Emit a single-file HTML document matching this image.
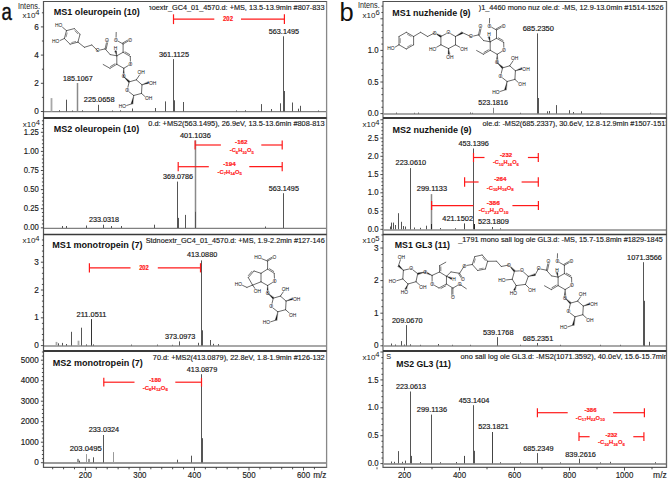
<!DOCTYPE html>
<html><head><meta charset="utf-8"><style>
html,body{margin:0;padding:0;background:#fff;}
svg{display:block;}
text{font-family:"Liberation Sans", sans-serif;}
</style></head><body>
<svg width="669" height="479" viewBox="0 0 669 479" style="font-family:'Liberation Sans', sans-serif">
<rect x="0" y="0" width="669" height="479" fill="#fff"/>
<defs>
<clipPath id="cL"><rect x="44" y="0" width="281.8" height="479"/></clipPath>
<clipPath id="cR"><rect x="384" y="0" width="281.7" height="479"/></clipPath>
</defs>
<text x="0" y="0" font-size="23.6" fill="#111" stroke="#111" stroke-width="0.45" transform="translate(1.5,19.8) scale(0.79,1)">a</text>
<text x="339.60" y="20.60" font-size="25.5" text-anchor="start" fill="#111" >b</text>
<line x1="44.00" y1="111.70" x2="326.10" y2="111.70" stroke="#808080" stroke-width="1.3" />
<line x1="44.00" y1="228.40" x2="326.10" y2="228.40" stroke="#808080" stroke-width="1.3" />
<line x1="44.00" y1="346.00" x2="326.10" y2="346.00" stroke="#a8a8a8" stroke-width="2.0" />
<line x1="44.00" y1="462.90" x2="326.10" y2="462.90" stroke="#9a9a9a" stroke-width="2.0" />
<line x1="383.50" y1="113.90" x2="666.00" y2="113.90" stroke="#a8a8a8" stroke-width="2.0" />
<line x1="383.50" y1="229.90" x2="666.00" y2="229.90" stroke="#a8a8a8" stroke-width="2.0" />
<line x1="383.50" y1="345.90" x2="666.00" y2="345.90" stroke="#a8a8a8" stroke-width="2.0" />
<line x1="383.50" y1="463.90" x2="666.00" y2="463.90" stroke="#9a9a9a" stroke-width="2.0" />
<line x1="51.50" y1="111.50" x2="51.50" y2="98.10" stroke="#a8a8a8" stroke-width="1.8" />
<line x1="66.50" y1="111.50" x2="66.50" y2="99.70" stroke="#555" stroke-width="1.0" />
<line x1="77.50" y1="111.50" x2="77.50" y2="83.00" stroke="#8a8a8a" stroke-width="1.5" />
<line x1="98.50" y1="111.50" x2="98.50" y2="104.80" stroke="#555" stroke-width="1.0" />
<line x1="132.50" y1="111.50" x2="132.50" y2="108.50" stroke="#555" stroke-width="1.0" />
<line x1="155.50" y1="111.50" x2="155.50" y2="108.00" stroke="#555" stroke-width="1.0" />
<line x1="165.50" y1="111.50" x2="165.50" y2="101.40" stroke="#555" stroke-width="1.0" />
<line x1="173.50" y1="111.50" x2="173.50" y2="59.10" stroke="#555" stroke-width="1.0" />
<line x1="174.50" y1="111.50" x2="174.50" y2="100.30" stroke="#555" stroke-width="1.0" />
<line x1="183.50" y1="111.50" x2="183.50" y2="102.00" stroke="#555" stroke-width="1.0" />
<line x1="261.50" y1="111.50" x2="261.50" y2="104.10" stroke="#555" stroke-width="1.0" />
<line x1="271.50" y1="111.50" x2="271.50" y2="109.00" stroke="#555" stroke-width="1.0" />
<line x1="280.50" y1="111.50" x2="280.50" y2="103.30" stroke="#555" stroke-width="1.0" />
<line x1="283.50" y1="111.50" x2="283.50" y2="36.30" stroke="#555" stroke-width="1.0" />
<line x1="284.50" y1="111.50" x2="284.50" y2="91.00" stroke="#555" stroke-width="1.0" />
<line x1="292.50" y1="111.50" x2="292.50" y2="102.50" stroke="#555" stroke-width="1.0" />
<line x1="298.50" y1="111.50" x2="298.50" y2="108.70" stroke="#555" stroke-width="1.0" />
<line x1="300.50" y1="111.50" x2="300.50" y2="105.80" stroke="#555" stroke-width="1.0" />
<line x1="59.50" y1="111.50" x2="59.50" y2="110.20" stroke="#555" stroke-width="1.0" />
<line x1="72.50" y1="111.50" x2="72.50" y2="110.50" stroke="#555" stroke-width="1.0" />
<line x1="82.50" y1="111.50" x2="82.50" y2="110.30" stroke="#555" stroke-width="1.0" />
<line x1="112.50" y1="111.50" x2="112.50" y2="110.50" stroke="#555" stroke-width="1.0" />
<line x1="120.50" y1="111.50" x2="120.50" y2="110.30" stroke="#555" stroke-width="1.0" />
<line x1="236.50" y1="111.50" x2="236.50" y2="110.50" stroke="#555" stroke-width="1.0" />
<line x1="245.50" y1="111.50" x2="245.50" y2="110.30" stroke="#555" stroke-width="1.0" />
<line x1="318.50" y1="111.50" x2="318.50" y2="110.50" stroke="#555" stroke-width="1.0" />
<line x1="62.50" y1="228.00" x2="62.50" y2="226.00" stroke="#555" stroke-width="1.0" />
<line x1="66.50" y1="228.00" x2="66.50" y2="226.00" stroke="#555" stroke-width="1.0" />
<line x1="86.50" y1="228.00" x2="86.50" y2="225.50" stroke="#555" stroke-width="1.0" />
<line x1="103.50" y1="228.00" x2="103.50" y2="224.70" stroke="#555" stroke-width="1.0" />
<line x1="111.50" y1="228.00" x2="111.50" y2="226.00" stroke="#555" stroke-width="1.0" />
<line x1="121.50" y1="228.00" x2="121.50" y2="226.00" stroke="#555" stroke-width="1.0" />
<line x1="154.50" y1="228.00" x2="154.50" y2="224.70" stroke="#555" stroke-width="1.0" />
<line x1="177.50" y1="228.00" x2="177.50" y2="181.60" stroke="#555" stroke-width="1.0" />
<line x1="178.50" y1="228.00" x2="178.50" y2="217.90" stroke="#555" stroke-width="1.0" />
<line x1="185.50" y1="228.00" x2="185.50" y2="214.90" stroke="#555" stroke-width="1.0" />
<line x1="195.50" y1="228.00" x2="195.50" y2="140.30" stroke="#8a8a8a" stroke-width="1.5" />
<line x1="195.50" y1="228.00" x2="195.50" y2="211.80" stroke="#555" stroke-width="1.0" />
<line x1="265.50" y1="228.00" x2="265.50" y2="226.50" stroke="#555" stroke-width="1.0" />
<line x1="283.50" y1="228.00" x2="283.50" y2="193.20" stroke="#555" stroke-width="1.0" />
<line x1="283.50" y1="228.00" x2="283.50" y2="216.50" stroke="#555" stroke-width="1.0" />
<line x1="56.50" y1="345.60" x2="56.50" y2="341.90" stroke="#a8a8a8" stroke-width="1.8" />
<line x1="58.50" y1="345.60" x2="58.50" y2="343.30" stroke="#555" stroke-width="1.0" />
<line x1="62.50" y1="345.60" x2="62.50" y2="342.90" stroke="#555" stroke-width="1.0" />
<line x1="66.50" y1="345.60" x2="66.50" y2="344.00" stroke="#555" stroke-width="1.0" />
<line x1="71.50" y1="345.60" x2="71.50" y2="331.80" stroke="#555" stroke-width="1.0" />
<line x1="78.50" y1="345.60" x2="78.50" y2="340.70" stroke="#a8a8a8" stroke-width="1.8" />
<line x1="81.50" y1="345.60" x2="81.50" y2="327.70" stroke="#555" stroke-width="1.0" />
<line x1="86.50" y1="345.60" x2="86.50" y2="344.40" stroke="#555" stroke-width="1.0" />
<line x1="91.50" y1="345.60" x2="91.50" y2="319.10" stroke="#333" stroke-width="1.0" />
<line x1="93.50" y1="345.60" x2="93.50" y2="344.40" stroke="#555" stroke-width="1.0" />
<line x1="179.50" y1="345.60" x2="179.50" y2="341.40" stroke="#555" stroke-width="1.0" />
<line x1="198.50" y1="345.60" x2="198.50" y2="342.80" stroke="#555" stroke-width="1.0" />
<line x1="201.50" y1="345.60" x2="201.50" y2="260.40" stroke="#555" stroke-width="1.0" />
<line x1="202.50" y1="345.60" x2="202.50" y2="330.30" stroke="#555" stroke-width="1.0" />
<line x1="210.50" y1="345.60" x2="210.50" y2="340.00" stroke="#555" stroke-width="1.0" />
<line x1="213.50" y1="345.60" x2="213.50" y2="343.80" stroke="#555" stroke-width="1.0" />
<line x1="218.50" y1="345.60" x2="218.50" y2="344.10" stroke="#555" stroke-width="1.0" />
<line x1="131.50" y1="345.60" x2="131.50" y2="344.60" stroke="#555" stroke-width="1.0" />
<line x1="157.50" y1="345.60" x2="157.50" y2="344.60" stroke="#555" stroke-width="1.0" />
<line x1="172.50" y1="345.60" x2="172.50" y2="344.80" stroke="#555" stroke-width="1.0" />
<line x1="77.50" y1="462.60" x2="77.50" y2="458.90" stroke="#9a9a9a" stroke-width="1.0" />
<line x1="78.50" y1="462.60" x2="78.50" y2="458.90" stroke="#9a9a9a" stroke-width="1.0" />
<line x1="79.50" y1="462.60" x2="79.50" y2="460.70" stroke="#555" stroke-width="1.0" />
<line x1="86.50" y1="462.60" x2="86.50" y2="454.10" stroke="#9a9a9a" stroke-width="1.0" />
<line x1="88.50" y1="462.60" x2="88.50" y2="458.90" stroke="#9a9a9a" stroke-width="1.0" />
<line x1="89.50" y1="462.60" x2="89.50" y2="458.90" stroke="#9a9a9a" stroke-width="1.0" />
<line x1="93.50" y1="462.60" x2="93.50" y2="457.30" stroke="#555" stroke-width="1.0" />
<line x1="103.50" y1="462.60" x2="103.50" y2="435.00" stroke="#555" stroke-width="1.0" />
<line x1="113.50" y1="462.60" x2="113.50" y2="452.10" stroke="#9a9a9a" stroke-width="1.0" />
<line x1="177.50" y1="462.60" x2="177.50" y2="459.70" stroke="#555" stroke-width="1.0" />
<line x1="191.50" y1="462.60" x2="191.50" y2="455.70" stroke="#555" stroke-width="1.0" />
<line x1="201.50" y1="462.60" x2="201.50" y2="374.20" stroke="#555" stroke-width="1.0" />
<line x1="202.50" y1="462.60" x2="202.50" y2="438.20" stroke="#555" stroke-width="1.0" />
<line x1="493.50" y1="113.60" x2="493.50" y2="107.80" stroke="#888" stroke-width="1.0" />
<line x1="537.50" y1="113.60" x2="537.50" y2="33.40" stroke="#555" stroke-width="1.0" />
<line x1="538.50" y1="113.60" x2="538.50" y2="98.00" stroke="#555" stroke-width="1.0" />
<line x1="547.50" y1="113.60" x2="547.50" y2="111.30" stroke="#555" stroke-width="1.0" />
<line x1="549.50" y1="113.60" x2="549.50" y2="111.00" stroke="#555" stroke-width="1.0" />
<line x1="556.50" y1="113.60" x2="556.50" y2="105.10" stroke="#555" stroke-width="1.0" />
<line x1="569.50" y1="113.60" x2="569.50" y2="110.20" stroke="#555" stroke-width="1.0" />
<line x1="573.50" y1="113.60" x2="573.50" y2="112.00" stroke="#555" stroke-width="1.0" />
<line x1="581.50" y1="113.60" x2="581.50" y2="111.30" stroke="#555" stroke-width="1.0" />
<line x1="396.50" y1="113.60" x2="396.50" y2="112.60" stroke="#555" stroke-width="1.0" />
<line x1="414.50" y1="113.60" x2="414.50" y2="112.80" stroke="#555" stroke-width="1.0" />
<line x1="418.50" y1="113.60" x2="418.50" y2="112.60" stroke="#555" stroke-width="1.0" />
<line x1="470.50" y1="113.60" x2="470.50" y2="112.50" stroke="#555" stroke-width="1.0" />
<line x1="472.50" y1="113.60" x2="472.50" y2="112.80" stroke="#555" stroke-width="1.0" />
<line x1="520.50" y1="113.60" x2="520.50" y2="112.80" stroke="#555" stroke-width="1.0" />
<line x1="600.50" y1="113.60" x2="600.50" y2="112.80" stroke="#555" stroke-width="1.0" />
<line x1="650.50" y1="113.60" x2="650.50" y2="112.80" stroke="#555" stroke-width="1.0" />
<line x1="390.50" y1="229.30" x2="390.50" y2="226.50" stroke="#555" stroke-width="1.0" />
<line x1="391.50" y1="229.30" x2="391.50" y2="222.60" stroke="#555" stroke-width="1.0" />
<line x1="393.50" y1="229.30" x2="393.50" y2="222.60" stroke="#555" stroke-width="1.0" />
<line x1="395.50" y1="229.30" x2="395.50" y2="225.00" stroke="#555" stroke-width="1.0" />
<line x1="398.50" y1="229.30" x2="398.50" y2="213.20" stroke="#555" stroke-width="1.0" />
<line x1="401.50" y1="229.30" x2="401.50" y2="221.80" stroke="#555" stroke-width="1.0" />
<line x1="403.50" y1="229.30" x2="403.50" y2="226.00" stroke="#555" stroke-width="1.0" />
<line x1="405.50" y1="229.30" x2="405.50" y2="226.50" stroke="#555" stroke-width="1.0" />
<line x1="410.50" y1="229.30" x2="410.50" y2="168.10" stroke="#555" stroke-width="1.0" />
<line x1="410.50" y1="229.30" x2="410.50" y2="221.00" stroke="#555" stroke-width="1.0" />
<line x1="414.50" y1="229.30" x2="414.50" y2="227.50" stroke="#555" stroke-width="1.0" />
<line x1="420.50" y1="229.30" x2="420.50" y2="227.80" stroke="#555" stroke-width="1.0" />
<line x1="426.50" y1="229.30" x2="426.50" y2="225.70" stroke="#555" stroke-width="1.0" />
<line x1="431.50" y1="229.30" x2="431.50" y2="194.10" stroke="#8a8a8a" stroke-width="1.5" />
<line x1="431.50" y1="229.30" x2="431.50" y2="224.00" stroke="#222" stroke-width="1.0" />
<line x1="464.50" y1="229.30" x2="464.50" y2="223.40" stroke="#444" stroke-width="1.0" />
<line x1="473.50" y1="229.30" x2="473.50" y2="148.50" stroke="#555" stroke-width="1.0" />
<line x1="474.50" y1="229.30" x2="474.50" y2="224.00" stroke="#222" stroke-width="1.0" />
<line x1="492.50" y1="229.30" x2="492.50" y2="227.00" stroke="#555" stroke-width="1.0" />
<line x1="440.50" y1="229.30" x2="440.50" y2="228.00" stroke="#555" stroke-width="1.0" />
<line x1="455.50" y1="229.30" x2="455.50" y2="228.20" stroke="#555" stroke-width="1.0" />
<line x1="500.50" y1="229.30" x2="500.50" y2="228.30" stroke="#555" stroke-width="1.0" />
<line x1="391.50" y1="345.70" x2="391.50" y2="343.50" stroke="#555" stroke-width="1.0" />
<line x1="401.50" y1="345.70" x2="401.50" y2="341.10" stroke="#555" stroke-width="1.0" />
<line x1="406.50" y1="345.70" x2="406.50" y2="325.10" stroke="#555" stroke-width="1.0" />
<line x1="438.50" y1="345.70" x2="438.50" y2="344.00" stroke="#555" stroke-width="1.0" />
<line x1="497.50" y1="345.70" x2="497.50" y2="337.10" stroke="#555" stroke-width="1.0" />
<line x1="537.50" y1="345.70" x2="537.50" y2="343.00" stroke="#555" stroke-width="1.0" />
<line x1="643.50" y1="345.70" x2="643.50" y2="262.20" stroke="#555" stroke-width="1.0" />
<line x1="644.50" y1="345.70" x2="644.50" y2="300.80" stroke="#555" stroke-width="1.0" />
<line x1="644.50" y1="345.70" x2="644.50" y2="340.60" stroke="#555" stroke-width="1.0" />
<line x1="649.50" y1="345.70" x2="649.50" y2="341.80" stroke="#555" stroke-width="1.0" />
<line x1="395.50" y1="345.70" x2="395.50" y2="344.50" stroke="#555" stroke-width="1.0" />
<line x1="404.50" y1="345.70" x2="404.50" y2="344.50" stroke="#555" stroke-width="1.0" />
<line x1="410.50" y1="345.70" x2="410.50" y2="344.30" stroke="#555" stroke-width="1.0" />
<line x1="420.50" y1="345.70" x2="420.50" y2="344.80" stroke="#555" stroke-width="1.0" />
<line x1="452.50" y1="345.70" x2="452.50" y2="344.80" stroke="#555" stroke-width="1.0" />
<line x1="470.50" y1="345.70" x2="470.50" y2="344.80" stroke="#555" stroke-width="1.0" />
<line x1="520.50" y1="345.70" x2="520.50" y2="344.80" stroke="#555" stroke-width="1.0" />
<line x1="560.50" y1="345.70" x2="560.50" y2="344.80" stroke="#555" stroke-width="1.0" />
<line x1="600.50" y1="345.70" x2="600.50" y2="344.80" stroke="#555" stroke-width="1.0" />
<line x1="620.50" y1="345.70" x2="620.50" y2="344.80" stroke="#555" stroke-width="1.0" />
<line x1="398.50" y1="463.40" x2="398.50" y2="451.10" stroke="#555" stroke-width="1.0" />
<line x1="405.50" y1="463.40" x2="405.50" y2="460.60" stroke="#555" stroke-width="1.0" />
<line x1="410.50" y1="463.40" x2="410.50" y2="391.50" stroke="#555" stroke-width="1.0" />
<line x1="411.50" y1="463.40" x2="411.50" y2="455.90" stroke="#555" stroke-width="1.0" />
<line x1="431.50" y1="463.40" x2="431.50" y2="414.60" stroke="#555" stroke-width="1.0" />
<line x1="431.50" y1="463.40" x2="431.50" y2="457.50" stroke="#555" stroke-width="1.0" />
<line x1="464.50" y1="463.40" x2="464.50" y2="455.90" stroke="#444" stroke-width="1.0" />
<line x1="473.50" y1="463.40" x2="473.50" y2="405.20" stroke="#555" stroke-width="1.0" />
<line x1="474.50" y1="463.40" x2="474.50" y2="450.80" stroke="#555" stroke-width="1.0" />
<line x1="492.50" y1="463.40" x2="492.50" y2="432.00" stroke="#444" stroke-width="1.0" />
<line x1="537.50" y1="463.40" x2="537.50" y2="453.10" stroke="#555" stroke-width="1.0" />
<line x1="579.50" y1="463.40" x2="579.50" y2="458.70" stroke="#555" stroke-width="1.0" />
<line x1="391.50" y1="463.40" x2="391.50" y2="461.50" stroke="#555" stroke-width="1.0" />
<line x1="394.50" y1="463.40" x2="394.50" y2="461.80" stroke="#555" stroke-width="1.0" />
<line x1="402.50" y1="463.40" x2="402.50" y2="461.80" stroke="#555" stroke-width="1.0" />
<line x1="420.50" y1="463.40" x2="420.50" y2="462.00" stroke="#555" stroke-width="1.0" />
<line x1="440.50" y1="463.40" x2="440.50" y2="462.20" stroke="#555" stroke-width="1.0" />
<line x1="456.50" y1="463.40" x2="456.50" y2="462.00" stroke="#555" stroke-width="1.0" />
<line x1="500.50" y1="463.40" x2="500.50" y2="462.20" stroke="#555" stroke-width="1.0" />
<line x1="520.50" y1="463.40" x2="520.50" y2="462.40" stroke="#555" stroke-width="1.0" />
<line x1="560.50" y1="463.40" x2="560.50" y2="462.40" stroke="#555" stroke-width="1.0" />
<line x1="600.50" y1="463.40" x2="600.50" y2="462.40" stroke="#555" stroke-width="1.0" />
<line x1="610.50" y1="463.40" x2="610.50" y2="461.80" stroke="#555" stroke-width="1.0" />
<line x1="655.50" y1="463.40" x2="655.50" y2="462.20" stroke="#555" stroke-width="1.0" />
<line x1="43.50" y1="1.00" x2="43.50" y2="468.00" stroke="#555" stroke-width="1.2" />
<line x1="326.60" y1="1.00" x2="326.60" y2="468.00" stroke="#888" stroke-width="1.3" />
<line x1="43.50" y1="1.50" x2="326.60" y2="1.50" stroke="#505050" stroke-width="1.1" />
<line x1="43.50" y1="118.00" x2="326.60" y2="118.00" stroke="#3a3a3a" stroke-width="1.8" />
<line x1="43.50" y1="234.50" x2="326.60" y2="234.50" stroke="#3a3a3a" stroke-width="1.4" />
<line x1="43.50" y1="351.00" x2="326.60" y2="351.00" stroke="#3a3a3a" stroke-width="1.8" />
<line x1="43.50" y1="467.40" x2="326.60" y2="467.40" stroke="#5a5a5a" stroke-width="1.1" />
<line x1="383.00" y1="1.00" x2="383.00" y2="468.00" stroke="#888" stroke-width="1.6" />
<line x1="666.50" y1="1.00" x2="666.50" y2="468.00" stroke="#666" stroke-width="1.3" />
<line x1="383.00" y1="1.50" x2="666.50" y2="1.50" stroke="#505050" stroke-width="1.1" />
<line x1="383.00" y1="118.00" x2="666.50" y2="118.00" stroke="#3a3a3a" stroke-width="1.8" />
<line x1="383.00" y1="234.50" x2="666.50" y2="234.50" stroke="#3a3a3a" stroke-width="1.4" />
<line x1="383.00" y1="351.00" x2="666.50" y2="351.00" stroke="#3a3a3a" stroke-width="1.8" />
<line x1="383.00" y1="467.40" x2="666.50" y2="467.40" stroke="#5a5a5a" stroke-width="1.1" />
<line x1="40.90" y1="111.50" x2="43.50" y2="111.50" stroke="#3a3a3a" stroke-width="0.9" />
<line x1="41.90" y1="97.40" x2="43.50" y2="97.40" stroke="#3a3a3a" stroke-width="0.9" />
<line x1="40.90" y1="83.30" x2="43.50" y2="83.30" stroke="#3a3a3a" stroke-width="0.9" />
<line x1="41.90" y1="69.20" x2="43.50" y2="69.20" stroke="#3a3a3a" stroke-width="0.9" />
<line x1="40.90" y1="55.10" x2="43.50" y2="55.10" stroke="#3a3a3a" stroke-width="0.9" />
<line x1="41.90" y1="41.00" x2="43.50" y2="41.00" stroke="#3a3a3a" stroke-width="0.9" />
<line x1="40.90" y1="26.90" x2="43.50" y2="26.90" stroke="#3a3a3a" stroke-width="0.9" />
<line x1="41.90" y1="12.80" x2="43.50" y2="12.80" stroke="#3a3a3a" stroke-width="0.9" />
<text x="38.80" y="114.10" font-size="8.2" text-anchor="end" fill="#1a1a1a" stroke="#1a1a1a" stroke-width="0.15">0</text>
<text x="38.80" y="85.90" font-size="8.2" text-anchor="end" fill="#1a1a1a" stroke="#1a1a1a" stroke-width="0.15">2</text>
<text x="38.80" y="57.70" font-size="8.2" text-anchor="end" fill="#1a1a1a" stroke="#1a1a1a" stroke-width="0.15">4</text>
<text x="38.80" y="29.50" font-size="8.2" text-anchor="end" fill="#1a1a1a" stroke="#1a1a1a" stroke-width="0.15">6</text>
<line x1="40.90" y1="227.80" x2="43.50" y2="227.80" stroke="#3a3a3a" stroke-width="0.9" />
<line x1="41.90" y1="223.98" x2="43.50" y2="223.98" stroke="#3a3a3a" stroke-width="0.9" />
<line x1="41.90" y1="220.16" x2="43.50" y2="220.16" stroke="#3a3a3a" stroke-width="0.9" />
<line x1="41.90" y1="216.34" x2="43.50" y2="216.34" stroke="#3a3a3a" stroke-width="0.9" />
<line x1="41.90" y1="212.52" x2="43.50" y2="212.52" stroke="#3a3a3a" stroke-width="0.9" />
<line x1="40.90" y1="208.70" x2="43.50" y2="208.70" stroke="#3a3a3a" stroke-width="0.9" />
<line x1="41.90" y1="204.88" x2="43.50" y2="204.88" stroke="#3a3a3a" stroke-width="0.9" />
<line x1="41.90" y1="201.06" x2="43.50" y2="201.06" stroke="#3a3a3a" stroke-width="0.9" />
<line x1="41.90" y1="197.24" x2="43.50" y2="197.24" stroke="#3a3a3a" stroke-width="0.9" />
<line x1="41.90" y1="193.42" x2="43.50" y2="193.42" stroke="#3a3a3a" stroke-width="0.9" />
<line x1="40.90" y1="189.60" x2="43.50" y2="189.60" stroke="#3a3a3a" stroke-width="0.9" />
<line x1="41.90" y1="185.78" x2="43.50" y2="185.78" stroke="#3a3a3a" stroke-width="0.9" />
<line x1="41.90" y1="181.96" x2="43.50" y2="181.96" stroke="#3a3a3a" stroke-width="0.9" />
<line x1="41.90" y1="178.14" x2="43.50" y2="178.14" stroke="#3a3a3a" stroke-width="0.9" />
<line x1="41.90" y1="174.32" x2="43.50" y2="174.32" stroke="#3a3a3a" stroke-width="0.9" />
<line x1="40.90" y1="170.50" x2="43.50" y2="170.50" stroke="#3a3a3a" stroke-width="0.9" />
<line x1="41.90" y1="166.68" x2="43.50" y2="166.68" stroke="#3a3a3a" stroke-width="0.9" />
<line x1="41.90" y1="162.86" x2="43.50" y2="162.86" stroke="#3a3a3a" stroke-width="0.9" />
<line x1="41.90" y1="159.04" x2="43.50" y2="159.04" stroke="#3a3a3a" stroke-width="0.9" />
<line x1="41.90" y1="155.22" x2="43.50" y2="155.22" stroke="#3a3a3a" stroke-width="0.9" />
<line x1="40.90" y1="151.40" x2="43.50" y2="151.40" stroke="#3a3a3a" stroke-width="0.9" />
<line x1="41.90" y1="147.58" x2="43.50" y2="147.58" stroke="#3a3a3a" stroke-width="0.9" />
<line x1="41.90" y1="143.76" x2="43.50" y2="143.76" stroke="#3a3a3a" stroke-width="0.9" />
<line x1="41.90" y1="139.94" x2="43.50" y2="139.94" stroke="#3a3a3a" stroke-width="0.9" />
<line x1="41.90" y1="136.12" x2="43.50" y2="136.12" stroke="#3a3a3a" stroke-width="0.9" />
<line x1="40.90" y1="132.30" x2="43.50" y2="132.30" stroke="#3a3a3a" stroke-width="0.9" />
<line x1="41.90" y1="128.48" x2="43.50" y2="128.48" stroke="#3a3a3a" stroke-width="0.9" />
<line x1="41.90" y1="124.66" x2="43.50" y2="124.66" stroke="#3a3a3a" stroke-width="0.9" />
<line x1="41.90" y1="120.84" x2="43.50" y2="120.84" stroke="#3a3a3a" stroke-width="0.9" />
<text x="38.80" y="230.40" font-size="8.2" text-anchor="end" fill="#1a1a1a" textLength="15.00" lengthAdjust="spacingAndGlyphs" stroke="#1a1a1a" stroke-width="0.15">0.00</text>
<text x="38.80" y="211.30" font-size="8.2" text-anchor="end" fill="#1a1a1a" textLength="15.00" lengthAdjust="spacingAndGlyphs" stroke="#1a1a1a" stroke-width="0.15">0.25</text>
<text x="38.80" y="192.20" font-size="8.2" text-anchor="end" fill="#1a1a1a" textLength="15.00" lengthAdjust="spacingAndGlyphs" stroke="#1a1a1a" stroke-width="0.15">0.50</text>
<text x="38.80" y="173.10" font-size="8.2" text-anchor="end" fill="#1a1a1a" textLength="15.00" lengthAdjust="spacingAndGlyphs" stroke="#1a1a1a" stroke-width="0.15">0.75</text>
<text x="38.80" y="154.00" font-size="8.2" text-anchor="end" fill="#1a1a1a" textLength="15.00" lengthAdjust="spacingAndGlyphs" stroke="#1a1a1a" stroke-width="0.15">1.00</text>
<text x="38.80" y="134.90" font-size="8.2" text-anchor="end" fill="#1a1a1a" textLength="15.00" lengthAdjust="spacingAndGlyphs" stroke="#1a1a1a" stroke-width="0.15">1.25</text>
<line x1="40.90" y1="345.60" x2="43.50" y2="345.60" stroke="#3a3a3a" stroke-width="0.9" />
<line x1="41.90" y1="340.04" x2="43.50" y2="340.04" stroke="#3a3a3a" stroke-width="0.9" />
<line x1="41.90" y1="334.48" x2="43.50" y2="334.48" stroke="#3a3a3a" stroke-width="0.9" />
<line x1="41.90" y1="328.92" x2="43.50" y2="328.92" stroke="#3a3a3a" stroke-width="0.9" />
<line x1="41.90" y1="323.36" x2="43.50" y2="323.36" stroke="#3a3a3a" stroke-width="0.9" />
<line x1="40.90" y1="317.80" x2="43.50" y2="317.80" stroke="#3a3a3a" stroke-width="0.9" />
<line x1="41.90" y1="312.24" x2="43.50" y2="312.24" stroke="#3a3a3a" stroke-width="0.9" />
<line x1="41.90" y1="306.68" x2="43.50" y2="306.68" stroke="#3a3a3a" stroke-width="0.9" />
<line x1="41.90" y1="301.12" x2="43.50" y2="301.12" stroke="#3a3a3a" stroke-width="0.9" />
<line x1="41.90" y1="295.56" x2="43.50" y2="295.56" stroke="#3a3a3a" stroke-width="0.9" />
<line x1="40.90" y1="290.00" x2="43.50" y2="290.00" stroke="#3a3a3a" stroke-width="0.9" />
<line x1="41.90" y1="284.44" x2="43.50" y2="284.44" stroke="#3a3a3a" stroke-width="0.9" />
<line x1="41.90" y1="278.88" x2="43.50" y2="278.88" stroke="#3a3a3a" stroke-width="0.9" />
<line x1="41.90" y1="273.32" x2="43.50" y2="273.32" stroke="#3a3a3a" stroke-width="0.9" />
<line x1="41.90" y1="267.76" x2="43.50" y2="267.76" stroke="#3a3a3a" stroke-width="0.9" />
<line x1="40.90" y1="262.20" x2="43.50" y2="262.20" stroke="#3a3a3a" stroke-width="0.9" />
<line x1="41.90" y1="256.64" x2="43.50" y2="256.64" stroke="#3a3a3a" stroke-width="0.9" />
<line x1="41.90" y1="251.08" x2="43.50" y2="251.08" stroke="#3a3a3a" stroke-width="0.9" />
<line x1="41.90" y1="245.52" x2="43.50" y2="245.52" stroke="#3a3a3a" stroke-width="0.9" />
<line x1="41.90" y1="239.96" x2="43.50" y2="239.96" stroke="#3a3a3a" stroke-width="0.9" />
<text x="38.80" y="348.20" font-size="8.2" text-anchor="end" fill="#1a1a1a" stroke="#1a1a1a" stroke-width="0.15">0</text>
<text x="38.80" y="320.40" font-size="8.2" text-anchor="end" fill="#1a1a1a" stroke="#1a1a1a" stroke-width="0.15">1</text>
<text x="38.80" y="292.60" font-size="8.2" text-anchor="end" fill="#1a1a1a" stroke="#1a1a1a" stroke-width="0.15">2</text>
<text x="38.80" y="264.80" font-size="8.2" text-anchor="end" fill="#1a1a1a" stroke="#1a1a1a" stroke-width="0.15">3</text>
<line x1="40.90" y1="462.70" x2="43.50" y2="462.70" stroke="#3a3a3a" stroke-width="0.9" />
<line x1="41.90" y1="458.60" x2="43.50" y2="458.60" stroke="#3a3a3a" stroke-width="0.9" />
<line x1="41.90" y1="454.50" x2="43.50" y2="454.50" stroke="#3a3a3a" stroke-width="0.9" />
<line x1="41.90" y1="450.40" x2="43.50" y2="450.40" stroke="#3a3a3a" stroke-width="0.9" />
<line x1="41.90" y1="446.30" x2="43.50" y2="446.30" stroke="#3a3a3a" stroke-width="0.9" />
<line x1="40.90" y1="442.20" x2="43.50" y2="442.20" stroke="#3a3a3a" stroke-width="0.9" />
<line x1="41.90" y1="438.10" x2="43.50" y2="438.10" stroke="#3a3a3a" stroke-width="0.9" />
<line x1="41.90" y1="434.00" x2="43.50" y2="434.00" stroke="#3a3a3a" stroke-width="0.9" />
<line x1="41.90" y1="429.90" x2="43.50" y2="429.90" stroke="#3a3a3a" stroke-width="0.9" />
<line x1="41.90" y1="425.80" x2="43.50" y2="425.80" stroke="#3a3a3a" stroke-width="0.9" />
<line x1="40.90" y1="421.70" x2="43.50" y2="421.70" stroke="#3a3a3a" stroke-width="0.9" />
<line x1="41.90" y1="417.60" x2="43.50" y2="417.60" stroke="#3a3a3a" stroke-width="0.9" />
<line x1="41.90" y1="413.50" x2="43.50" y2="413.50" stroke="#3a3a3a" stroke-width="0.9" />
<line x1="41.90" y1="409.40" x2="43.50" y2="409.40" stroke="#3a3a3a" stroke-width="0.9" />
<line x1="41.90" y1="405.30" x2="43.50" y2="405.30" stroke="#3a3a3a" stroke-width="0.9" />
<line x1="40.90" y1="401.20" x2="43.50" y2="401.20" stroke="#3a3a3a" stroke-width="0.9" />
<line x1="41.90" y1="397.10" x2="43.50" y2="397.10" stroke="#3a3a3a" stroke-width="0.9" />
<line x1="41.90" y1="393.00" x2="43.50" y2="393.00" stroke="#3a3a3a" stroke-width="0.9" />
<line x1="41.90" y1="388.90" x2="43.50" y2="388.90" stroke="#3a3a3a" stroke-width="0.9" />
<line x1="41.90" y1="384.80" x2="43.50" y2="384.80" stroke="#3a3a3a" stroke-width="0.9" />
<line x1="40.90" y1="380.70" x2="43.50" y2="380.70" stroke="#3a3a3a" stroke-width="0.9" />
<line x1="41.90" y1="376.60" x2="43.50" y2="376.60" stroke="#3a3a3a" stroke-width="0.9" />
<line x1="41.90" y1="372.50" x2="43.50" y2="372.50" stroke="#3a3a3a" stroke-width="0.9" />
<line x1="41.90" y1="368.40" x2="43.50" y2="368.40" stroke="#3a3a3a" stroke-width="0.9" />
<line x1="41.90" y1="364.30" x2="43.50" y2="364.30" stroke="#3a3a3a" stroke-width="0.9" />
<line x1="40.90" y1="360.20" x2="43.50" y2="360.20" stroke="#3a3a3a" stroke-width="0.9" />
<line x1="41.90" y1="356.10" x2="43.50" y2="356.10" stroke="#3a3a3a" stroke-width="0.9" />
<line x1="41.90" y1="352.00" x2="43.50" y2="352.00" stroke="#3a3a3a" stroke-width="0.9" />
<text x="38.80" y="465.30" font-size="8.2" text-anchor="end" fill="#1a1a1a" stroke="#1a1a1a" stroke-width="0.15">0</text>
<text x="38.80" y="444.80" font-size="8.2" text-anchor="end" fill="#1a1a1a" textLength="18.00" lengthAdjust="spacingAndGlyphs" stroke="#1a1a1a" stroke-width="0.15">1000</text>
<text x="38.80" y="424.30" font-size="8.2" text-anchor="end" fill="#1a1a1a" textLength="18.00" lengthAdjust="spacingAndGlyphs" stroke="#1a1a1a" stroke-width="0.15">2000</text>
<text x="38.80" y="403.80" font-size="8.2" text-anchor="end" fill="#1a1a1a" textLength="18.00" lengthAdjust="spacingAndGlyphs" stroke="#1a1a1a" stroke-width="0.15">3000</text>
<text x="38.80" y="383.30" font-size="8.2" text-anchor="end" fill="#1a1a1a" textLength="18.00" lengthAdjust="spacingAndGlyphs" stroke="#1a1a1a" stroke-width="0.15">4000</text>
<text x="38.80" y="362.80" font-size="8.2" text-anchor="end" fill="#1a1a1a" textLength="18.00" lengthAdjust="spacingAndGlyphs" stroke="#1a1a1a" stroke-width="0.15">5000</text>
<line x1="380.40" y1="113.60" x2="383.00" y2="113.60" stroke="#3a3a3a" stroke-width="0.9" />
<line x1="381.40" y1="107.28" x2="383.00" y2="107.28" stroke="#3a3a3a" stroke-width="0.9" />
<line x1="381.40" y1="100.96" x2="383.00" y2="100.96" stroke="#3a3a3a" stroke-width="0.9" />
<line x1="381.40" y1="94.64" x2="383.00" y2="94.64" stroke="#3a3a3a" stroke-width="0.9" />
<line x1="381.40" y1="88.32" x2="383.00" y2="88.32" stroke="#3a3a3a" stroke-width="0.9" />
<line x1="380.40" y1="82.00" x2="383.00" y2="82.00" stroke="#3a3a3a" stroke-width="0.9" />
<line x1="381.40" y1="75.68" x2="383.00" y2="75.68" stroke="#3a3a3a" stroke-width="0.9" />
<line x1="381.40" y1="69.36" x2="383.00" y2="69.36" stroke="#3a3a3a" stroke-width="0.9" />
<line x1="381.40" y1="63.04" x2="383.00" y2="63.04" stroke="#3a3a3a" stroke-width="0.9" />
<line x1="381.40" y1="56.72" x2="383.00" y2="56.72" stroke="#3a3a3a" stroke-width="0.9" />
<line x1="380.40" y1="50.40" x2="383.00" y2="50.40" stroke="#3a3a3a" stroke-width="0.9" />
<line x1="381.40" y1="44.08" x2="383.00" y2="44.08" stroke="#3a3a3a" stroke-width="0.9" />
<line x1="381.40" y1="37.76" x2="383.00" y2="37.76" stroke="#3a3a3a" stroke-width="0.9" />
<line x1="381.40" y1="31.44" x2="383.00" y2="31.44" stroke="#3a3a3a" stroke-width="0.9" />
<line x1="381.40" y1="25.12" x2="383.00" y2="25.12" stroke="#3a3a3a" stroke-width="0.9" />
<line x1="380.40" y1="18.80" x2="383.00" y2="18.80" stroke="#3a3a3a" stroke-width="0.9" />
<line x1="381.40" y1="12.48" x2="383.00" y2="12.48" stroke="#3a3a3a" stroke-width="0.9" />
<line x1="381.40" y1="6.16" x2="383.00" y2="6.16" stroke="#3a3a3a" stroke-width="0.9" />
<text x="378.60" y="116.20" font-size="8.2" text-anchor="end" fill="#1a1a1a" textLength="10.80" lengthAdjust="spacingAndGlyphs" stroke="#1a1a1a" stroke-width="0.15">0.0</text>
<text x="378.60" y="84.60" font-size="8.2" text-anchor="end" fill="#1a1a1a" textLength="10.80" lengthAdjust="spacingAndGlyphs" stroke="#1a1a1a" stroke-width="0.15">0.5</text>
<text x="378.60" y="53.00" font-size="8.2" text-anchor="end" fill="#1a1a1a" textLength="10.80" lengthAdjust="spacingAndGlyphs" stroke="#1a1a1a" stroke-width="0.15">1.0</text>
<line x1="380.40" y1="229.30" x2="383.00" y2="229.30" stroke="#3a3a3a" stroke-width="0.9" />
<line x1="381.40" y1="225.65" x2="383.00" y2="225.65" stroke="#3a3a3a" stroke-width="0.9" />
<line x1="381.40" y1="222.00" x2="383.00" y2="222.00" stroke="#3a3a3a" stroke-width="0.9" />
<line x1="381.40" y1="218.35" x2="383.00" y2="218.35" stroke="#3a3a3a" stroke-width="0.9" />
<line x1="381.40" y1="214.70" x2="383.00" y2="214.70" stroke="#3a3a3a" stroke-width="0.9" />
<line x1="380.40" y1="211.05" x2="383.00" y2="211.05" stroke="#3a3a3a" stroke-width="0.9" />
<line x1="381.40" y1="207.40" x2="383.00" y2="207.40" stroke="#3a3a3a" stroke-width="0.9" />
<line x1="381.40" y1="203.75" x2="383.00" y2="203.75" stroke="#3a3a3a" stroke-width="0.9" />
<line x1="381.40" y1="200.10" x2="383.00" y2="200.10" stroke="#3a3a3a" stroke-width="0.9" />
<line x1="381.40" y1="196.45" x2="383.00" y2="196.45" stroke="#3a3a3a" stroke-width="0.9" />
<line x1="380.40" y1="192.80" x2="383.00" y2="192.80" stroke="#3a3a3a" stroke-width="0.9" />
<line x1="381.40" y1="189.15" x2="383.00" y2="189.15" stroke="#3a3a3a" stroke-width="0.9" />
<line x1="381.40" y1="185.50" x2="383.00" y2="185.50" stroke="#3a3a3a" stroke-width="0.9" />
<line x1="381.40" y1="181.85" x2="383.00" y2="181.85" stroke="#3a3a3a" stroke-width="0.9" />
<line x1="381.40" y1="178.20" x2="383.00" y2="178.20" stroke="#3a3a3a" stroke-width="0.9" />
<line x1="380.40" y1="174.55" x2="383.00" y2="174.55" stroke="#3a3a3a" stroke-width="0.9" />
<line x1="381.40" y1="170.90" x2="383.00" y2="170.90" stroke="#3a3a3a" stroke-width="0.9" />
<line x1="381.40" y1="167.25" x2="383.00" y2="167.25" stroke="#3a3a3a" stroke-width="0.9" />
<line x1="381.40" y1="163.60" x2="383.00" y2="163.60" stroke="#3a3a3a" stroke-width="0.9" />
<line x1="381.40" y1="159.95" x2="383.00" y2="159.95" stroke="#3a3a3a" stroke-width="0.9" />
<line x1="380.40" y1="156.30" x2="383.00" y2="156.30" stroke="#3a3a3a" stroke-width="0.9" />
<line x1="381.40" y1="152.65" x2="383.00" y2="152.65" stroke="#3a3a3a" stroke-width="0.9" />
<line x1="381.40" y1="149.00" x2="383.00" y2="149.00" stroke="#3a3a3a" stroke-width="0.9" />
<line x1="381.40" y1="145.35" x2="383.00" y2="145.35" stroke="#3a3a3a" stroke-width="0.9" />
<line x1="381.40" y1="141.70" x2="383.00" y2="141.70" stroke="#3a3a3a" stroke-width="0.9" />
<line x1="380.40" y1="138.05" x2="383.00" y2="138.05" stroke="#3a3a3a" stroke-width="0.9" />
<line x1="381.40" y1="134.40" x2="383.00" y2="134.40" stroke="#3a3a3a" stroke-width="0.9" />
<line x1="381.40" y1="130.75" x2="383.00" y2="130.75" stroke="#3a3a3a" stroke-width="0.9" />
<line x1="381.40" y1="127.10" x2="383.00" y2="127.10" stroke="#3a3a3a" stroke-width="0.9" />
<line x1="381.40" y1="123.45" x2="383.00" y2="123.45" stroke="#3a3a3a" stroke-width="0.9" />
<line x1="380.40" y1="119.80" x2="383.00" y2="119.80" stroke="#3a3a3a" stroke-width="0.9" />
<text x="378.60" y="231.90" font-size="8.2" text-anchor="end" fill="#1a1a1a" textLength="10.80" lengthAdjust="spacingAndGlyphs" stroke="#1a1a1a" stroke-width="0.15">0.0</text>
<text x="378.60" y="213.65" font-size="8.2" text-anchor="end" fill="#1a1a1a" textLength="10.80" lengthAdjust="spacingAndGlyphs" stroke="#1a1a1a" stroke-width="0.15">0.5</text>
<text x="378.60" y="195.40" font-size="8.2" text-anchor="end" fill="#1a1a1a" textLength="10.80" lengthAdjust="spacingAndGlyphs" stroke="#1a1a1a" stroke-width="0.15">1.0</text>
<text x="378.60" y="177.15" font-size="8.2" text-anchor="end" fill="#1a1a1a" textLength="10.80" lengthAdjust="spacingAndGlyphs" stroke="#1a1a1a" stroke-width="0.15">1.5</text>
<text x="378.60" y="158.90" font-size="8.2" text-anchor="end" fill="#1a1a1a" textLength="10.80" lengthAdjust="spacingAndGlyphs" stroke="#1a1a1a" stroke-width="0.15">2.0</text>
<text x="378.60" y="140.65" font-size="8.2" text-anchor="end" fill="#1a1a1a" textLength="10.80" lengthAdjust="spacingAndGlyphs" stroke="#1a1a1a" stroke-width="0.15">2.5</text>
<line x1="380.40" y1="345.80" x2="383.00" y2="345.80" stroke="#3a3a3a" stroke-width="0.9" />
<line x1="381.40" y1="339.28" x2="383.00" y2="339.28" stroke="#3a3a3a" stroke-width="0.9" />
<line x1="381.40" y1="332.76" x2="383.00" y2="332.76" stroke="#3a3a3a" stroke-width="0.9" />
<line x1="381.40" y1="326.24" x2="383.00" y2="326.24" stroke="#3a3a3a" stroke-width="0.9" />
<line x1="381.40" y1="319.72" x2="383.00" y2="319.72" stroke="#3a3a3a" stroke-width="0.9" />
<line x1="380.40" y1="313.20" x2="383.00" y2="313.20" stroke="#3a3a3a" stroke-width="0.9" />
<line x1="381.40" y1="306.68" x2="383.00" y2="306.68" stroke="#3a3a3a" stroke-width="0.9" />
<line x1="381.40" y1="300.16" x2="383.00" y2="300.16" stroke="#3a3a3a" stroke-width="0.9" />
<line x1="381.40" y1="293.64" x2="383.00" y2="293.64" stroke="#3a3a3a" stroke-width="0.9" />
<line x1="381.40" y1="287.12" x2="383.00" y2="287.12" stroke="#3a3a3a" stroke-width="0.9" />
<line x1="380.40" y1="280.60" x2="383.00" y2="280.60" stroke="#3a3a3a" stroke-width="0.9" />
<line x1="381.40" y1="274.08" x2="383.00" y2="274.08" stroke="#3a3a3a" stroke-width="0.9" />
<line x1="381.40" y1="267.56" x2="383.00" y2="267.56" stroke="#3a3a3a" stroke-width="0.9" />
<line x1="381.40" y1="261.04" x2="383.00" y2="261.04" stroke="#3a3a3a" stroke-width="0.9" />
<line x1="381.40" y1="254.52" x2="383.00" y2="254.52" stroke="#3a3a3a" stroke-width="0.9" />
<line x1="380.40" y1="248.00" x2="383.00" y2="248.00" stroke="#3a3a3a" stroke-width="0.9" />
<line x1="381.40" y1="241.48" x2="383.00" y2="241.48" stroke="#3a3a3a" stroke-width="0.9" />
<line x1="381.40" y1="234.96" x2="383.00" y2="234.96" stroke="#3a3a3a" stroke-width="0.9" />
<text x="378.60" y="348.40" font-size="8.2" text-anchor="end" fill="#1a1a1a" stroke="#1a1a1a" stroke-width="0.15">0</text>
<text x="378.60" y="315.80" font-size="8.2" text-anchor="end" fill="#1a1a1a" stroke="#1a1a1a" stroke-width="0.15">1</text>
<text x="378.60" y="283.20" font-size="8.2" text-anchor="end" fill="#1a1a1a" stroke="#1a1a1a" stroke-width="0.15">2</text>
<text x="378.60" y="250.60" font-size="8.2" text-anchor="end" fill="#1a1a1a" stroke="#1a1a1a" stroke-width="0.15">3</text>
<line x1="380.40" y1="463.60" x2="383.00" y2="463.60" stroke="#3a3a3a" stroke-width="0.9" />
<line x1="381.40" y1="458.02" x2="383.00" y2="458.02" stroke="#3a3a3a" stroke-width="0.9" />
<line x1="381.40" y1="452.44" x2="383.00" y2="452.44" stroke="#3a3a3a" stroke-width="0.9" />
<line x1="381.40" y1="446.86" x2="383.00" y2="446.86" stroke="#3a3a3a" stroke-width="0.9" />
<line x1="381.40" y1="441.28" x2="383.00" y2="441.28" stroke="#3a3a3a" stroke-width="0.9" />
<line x1="380.40" y1="435.70" x2="383.00" y2="435.70" stroke="#3a3a3a" stroke-width="0.9" />
<line x1="381.40" y1="430.12" x2="383.00" y2="430.12" stroke="#3a3a3a" stroke-width="0.9" />
<line x1="381.40" y1="424.54" x2="383.00" y2="424.54" stroke="#3a3a3a" stroke-width="0.9" />
<line x1="381.40" y1="418.96" x2="383.00" y2="418.96" stroke="#3a3a3a" stroke-width="0.9" />
<line x1="381.40" y1="413.38" x2="383.00" y2="413.38" stroke="#3a3a3a" stroke-width="0.9" />
<line x1="380.40" y1="407.80" x2="383.00" y2="407.80" stroke="#3a3a3a" stroke-width="0.9" />
<line x1="381.40" y1="402.22" x2="383.00" y2="402.22" stroke="#3a3a3a" stroke-width="0.9" />
<line x1="381.40" y1="396.64" x2="383.00" y2="396.64" stroke="#3a3a3a" stroke-width="0.9" />
<line x1="381.40" y1="391.06" x2="383.00" y2="391.06" stroke="#3a3a3a" stroke-width="0.9" />
<line x1="381.40" y1="385.48" x2="383.00" y2="385.48" stroke="#3a3a3a" stroke-width="0.9" />
<line x1="380.40" y1="379.90" x2="383.00" y2="379.90" stroke="#3a3a3a" stroke-width="0.9" />
<line x1="381.40" y1="374.32" x2="383.00" y2="374.32" stroke="#3a3a3a" stroke-width="0.9" />
<line x1="381.40" y1="368.74" x2="383.00" y2="368.74" stroke="#3a3a3a" stroke-width="0.9" />
<line x1="381.40" y1="363.16" x2="383.00" y2="363.16" stroke="#3a3a3a" stroke-width="0.9" />
<line x1="381.40" y1="357.58" x2="383.00" y2="357.58" stroke="#3a3a3a" stroke-width="0.9" />
<line x1="380.40" y1="352.00" x2="383.00" y2="352.00" stroke="#3a3a3a" stroke-width="0.9" />
<text x="378.60" y="466.20" font-size="8.2" text-anchor="end" fill="#1a1a1a" textLength="10.80" lengthAdjust="spacingAndGlyphs" stroke="#1a1a1a" stroke-width="0.15">0.0</text>
<text x="378.60" y="438.30" font-size="8.2" text-anchor="end" fill="#1a1a1a" textLength="10.80" lengthAdjust="spacingAndGlyphs" stroke="#1a1a1a" stroke-width="0.15">0.5</text>
<text x="378.60" y="410.40" font-size="8.2" text-anchor="end" fill="#1a1a1a" textLength="10.80" lengthAdjust="spacingAndGlyphs" stroke="#1a1a1a" stroke-width="0.15">1.0</text>
<text x="378.60" y="382.50" font-size="8.2" text-anchor="end" fill="#1a1a1a" textLength="10.80" lengthAdjust="spacingAndGlyphs" stroke="#1a1a1a" stroke-width="0.15">1.5</text>
<text x="40.00" y="8.50" font-size="8.2" text-anchor="end" fill="#222" textLength="22.00" lengthAdjust="spacingAndGlyphs" >Intens.</text>
<text x="39.60" y="17.70" font-size="8.0" text-anchor="end" fill="#1a1a1a">x10<tspan font-size="7.6" dy="-2.3">4</tspan></text>
<text x="40.00" y="126.90" font-size="8.0" text-anchor="end" fill="#1a1a1a">x10<tspan font-size="7.6" dy="-2.3">4</tspan></text>
<text x="39.60" y="243.40" font-size="8.0" text-anchor="end" fill="#1a1a1a">x10<tspan font-size="7.6" dy="-2.3">4</tspan></text>
<text x="379.70" y="8.20" font-size="8.2" text-anchor="end" fill="#222" textLength="21.80" lengthAdjust="spacingAndGlyphs" >Intens.</text>
<text x="379.70" y="17.80" font-size="8.0" text-anchor="end" fill="#1a1a1a">x10<tspan font-size="7.6" dy="-2.3">6</tspan></text>
<text x="379.60" y="126.90" font-size="8.0" text-anchor="end" fill="#1a1a1a">x10<tspan font-size="7.6" dy="-2.3">4</tspan></text>
<text x="379.60" y="243.30" font-size="8.0" text-anchor="end" fill="#1a1a1a">x10<tspan font-size="7.6" dy="-2.3">5</tspan></text>
<text x="379.60" y="359.50" font-size="8.0" text-anchor="end" fill="#1a1a1a">x10<tspan font-size="7.6" dy="-2.3">4</tspan></text>
<line x1="52.68" y1="467.30" x2="52.68" y2="469.30" stroke="#3a3a3a" stroke-width="0.9" />
<line x1="63.59" y1="467.30" x2="63.59" y2="469.30" stroke="#3a3a3a" stroke-width="0.9" />
<line x1="74.49" y1="467.30" x2="74.49" y2="469.30" stroke="#3a3a3a" stroke-width="0.9" />
<line x1="96.31" y1="467.30" x2="96.31" y2="469.30" stroke="#3a3a3a" stroke-width="0.9" />
<line x1="107.21" y1="467.30" x2="107.21" y2="469.30" stroke="#3a3a3a" stroke-width="0.9" />
<line x1="118.12" y1="467.30" x2="118.12" y2="469.30" stroke="#3a3a3a" stroke-width="0.9" />
<line x1="129.02" y1="467.30" x2="129.02" y2="469.30" stroke="#3a3a3a" stroke-width="0.9" />
<line x1="150.84" y1="467.30" x2="150.84" y2="469.30" stroke="#3a3a3a" stroke-width="0.9" />
<line x1="161.74" y1="467.30" x2="161.74" y2="469.30" stroke="#3a3a3a" stroke-width="0.9" />
<line x1="172.65" y1="467.30" x2="172.65" y2="469.30" stroke="#3a3a3a" stroke-width="0.9" />
<line x1="183.55" y1="467.30" x2="183.55" y2="469.30" stroke="#3a3a3a" stroke-width="0.9" />
<line x1="205.37" y1="467.30" x2="205.37" y2="469.30" stroke="#3a3a3a" stroke-width="0.9" />
<line x1="216.27" y1="467.30" x2="216.27" y2="469.30" stroke="#3a3a3a" stroke-width="0.9" />
<line x1="227.18" y1="467.30" x2="227.18" y2="469.30" stroke="#3a3a3a" stroke-width="0.9" />
<line x1="238.08" y1="467.30" x2="238.08" y2="469.30" stroke="#3a3a3a" stroke-width="0.9" />
<line x1="259.90" y1="467.30" x2="259.90" y2="469.30" stroke="#3a3a3a" stroke-width="0.9" />
<line x1="270.80" y1="467.30" x2="270.80" y2="469.30" stroke="#3a3a3a" stroke-width="0.9" />
<line x1="281.71" y1="467.30" x2="281.71" y2="469.30" stroke="#3a3a3a" stroke-width="0.9" />
<line x1="292.61" y1="467.30" x2="292.61" y2="469.30" stroke="#3a3a3a" stroke-width="0.9" />
<line x1="314.43" y1="467.30" x2="314.43" y2="469.30" stroke="#3a3a3a" stroke-width="0.9" />
<line x1="85.40" y1="467.30" x2="85.40" y2="470.50" stroke="#3a3a3a" stroke-width="0.9" />
<line x1="139.93" y1="467.30" x2="139.93" y2="470.50" stroke="#3a3a3a" stroke-width="0.9" />
<line x1="194.46" y1="467.30" x2="194.46" y2="470.50" stroke="#3a3a3a" stroke-width="0.9" />
<line x1="248.99" y1="467.30" x2="248.99" y2="470.50" stroke="#3a3a3a" stroke-width="0.9" />
<line x1="303.52" y1="467.30" x2="303.52" y2="470.50" stroke="#3a3a3a" stroke-width="0.9" />
<text x="85.40" y="477.70" font-size="8.8" text-anchor="middle" fill="#1a1a1a" textLength="13.20" lengthAdjust="spacingAndGlyphs" stroke="#1a1a1a" stroke-width="0.15">200</text>
<text x="139.93" y="477.70" font-size="8.8" text-anchor="middle" fill="#1a1a1a" textLength="13.20" lengthAdjust="spacingAndGlyphs" stroke="#1a1a1a" stroke-width="0.15">300</text>
<text x="194.46" y="477.70" font-size="8.8" text-anchor="middle" fill="#1a1a1a" textLength="13.20" lengthAdjust="spacingAndGlyphs" stroke="#1a1a1a" stroke-width="0.15">400</text>
<text x="248.99" y="477.70" font-size="8.8" text-anchor="middle" fill="#1a1a1a" textLength="13.20" lengthAdjust="spacingAndGlyphs" stroke="#1a1a1a" stroke-width="0.15">500</text>
<text x="303.52" y="477.70" font-size="8.8" text-anchor="middle" fill="#1a1a1a" textLength="13.20" lengthAdjust="spacingAndGlyphs" stroke="#1a1a1a" stroke-width="0.15">600</text>
<line x1="377.00" y1="467.30" x2="377.00" y2="469.30" stroke="#3a3a3a" stroke-width="0.9" />
<line x1="432.00" y1="467.30" x2="432.00" y2="469.30" stroke="#3a3a3a" stroke-width="0.9" />
<line x1="487.00" y1="467.30" x2="487.00" y2="469.30" stroke="#3a3a3a" stroke-width="0.9" />
<line x1="542.00" y1="467.30" x2="542.00" y2="469.30" stroke="#3a3a3a" stroke-width="0.9" />
<line x1="597.00" y1="467.30" x2="597.00" y2="469.30" stroke="#3a3a3a" stroke-width="0.9" />
<line x1="652.00" y1="467.30" x2="652.00" y2="469.30" stroke="#3a3a3a" stroke-width="0.9" />
<line x1="404.50" y1="467.30" x2="404.50" y2="470.50" stroke="#3a3a3a" stroke-width="0.9" />
<line x1="459.50" y1="467.30" x2="459.50" y2="470.50" stroke="#3a3a3a" stroke-width="0.9" />
<line x1="514.50" y1="467.30" x2="514.50" y2="470.50" stroke="#3a3a3a" stroke-width="0.9" />
<line x1="569.50" y1="467.30" x2="569.50" y2="470.50" stroke="#3a3a3a" stroke-width="0.9" />
<line x1="624.50" y1="467.30" x2="624.50" y2="470.50" stroke="#3a3a3a" stroke-width="0.9" />
<text x="404.50" y="477.70" font-size="8.8" text-anchor="middle" fill="#1a1a1a" textLength="13.20" lengthAdjust="spacingAndGlyphs" stroke="#1a1a1a" stroke-width="0.15">200</text>
<text x="459.50" y="477.70" font-size="8.8" text-anchor="middle" fill="#1a1a1a" textLength="13.20" lengthAdjust="spacingAndGlyphs" stroke="#1a1a1a" stroke-width="0.15">400</text>
<text x="514.50" y="477.70" font-size="8.8" text-anchor="middle" fill="#1a1a1a" textLength="13.20" lengthAdjust="spacingAndGlyphs" stroke="#1a1a1a" stroke-width="0.15">600</text>
<text x="569.50" y="477.70" font-size="8.8" text-anchor="middle" fill="#1a1a1a" textLength="13.20" lengthAdjust="spacingAndGlyphs" stroke="#1a1a1a" stroke-width="0.15">800</text>
<text x="624.50" y="477.70" font-size="8.8" text-anchor="middle" fill="#1a1a1a" textLength="17.60" lengthAdjust="spacingAndGlyphs" stroke="#1a1a1a" stroke-width="0.15">1000</text>
<text x="326.40" y="477.70" font-size="8.8" text-anchor="end" fill="#1a1a1a" textLength="13.20" lengthAdjust="spacingAndGlyphs" stroke="#1a1a1a" stroke-width="0.15">m/z</text>
<text x="666.70" y="477.70" font-size="8.8" text-anchor="end" fill="#1a1a1a" textLength="13.60" lengthAdjust="spacingAndGlyphs" stroke="#1a1a1a" stroke-width="0.15">m/z</text>
<g clip-path="url(#cL)">
<text x="147.60" y="9.80" font-size="7.3" text-anchor="start" fill="#1a1a1a" textLength="176.90" lengthAdjust="spacingAndGlyphs" stroke="#1a1a1a" stroke-width="0.15">noextr_GC4_01_4570.d: +MS, 13.5-13.9min #807-833</text>
</g>
<g clip-path="url(#cL)">
<text x="148.30" y="125.90" font-size="7.3" text-anchor="start" fill="#1a1a1a" textLength="176.20" lengthAdjust="spacingAndGlyphs" stroke="#1a1a1a" stroke-width="0.15">0.d: +MS2(563.1495), 26.9eV, 13.5-13.6min #808-813</text>
</g>
<g clip-path="url(#cL)">
<text x="145.70" y="242.60" font-size="7.3" text-anchor="start" fill="#1a1a1a" textLength="179.00" lengthAdjust="spacingAndGlyphs" stroke="#1a1a1a" stroke-width="0.15">Stdnoextr_GC4_01_4570.d: +MS, 1.9-2.2min #127-146</text>
</g>
<g clip-path="url(#cL)">
<text x="152.80" y="359.60" font-size="7.3" text-anchor="start" fill="#1a1a1a" textLength="171.90" lengthAdjust="spacingAndGlyphs" stroke="#1a1a1a" stroke-width="0.15">70.d: +MS2(413.0879), 22.8eV, 1.8-1.9min #126-132</text>
</g>
<g clip-path="url(#cR)">
<text x="478.70" y="9.50" font-size="7.3" text-anchor="start" fill="#1a1a1a" textLength="184.80" lengthAdjust="spacingAndGlyphs" stroke="#1a1a1a" stroke-width="0.15">)1_4460 mono nuz ole.d: -MS, 12.9-13.0min #1514-1526</text>
</g>
<g clip-path="url(#cR)">
<text x="482.50" y="125.90" font-size="7.3" text-anchor="start" fill="#1a1a1a" textLength="186.81" lengthAdjust="spacingAndGlyphs" stroke="#1a1a1a" stroke-width="0.15">ole.d: -MS2(685.2337), 30.6eV, 12.8-12.9min #1507-1513</text>
</g>
<g clip-path="url(#cR)">
<text x="458.20" y="242.20" font-size="7.3" text-anchor="start" fill="#1a1a1a" textLength="204.60" lengthAdjust="spacingAndGlyphs" stroke="#1a1a1a" stroke-width="0.15">_1791 mono sali log ole GL3.d: -MS, 15.7-15.8min #1829-1845</text>
</g>
<g clip-path="url(#cR)">
<text x="460.50" y="359.30" font-size="7.3" text-anchor="start" fill="#1a1a1a" textLength="248.80" lengthAdjust="spacingAndGlyphs" stroke="#1a1a1a" stroke-width="0.15">ono sali log ole GL3.d: -MS2(1071.3592), 40.0eV, 15.6-15.7min #1822-1834</text>
</g>
<text x="386.20" y="359.30" font-size="7.3" text-anchor="start" fill="#222" >S</text>
<rect x="144" y="3" width="5.0" height="8" fill="#fff"/>
<text x="53.70" y="15.30" font-size="9" text-anchor="start" fill="#111" font-weight="bold" textLength="86.20" lengthAdjust="spacingAndGlyphs" >MS1 oleuropein (10)</text>
<text x="53.70" y="131.60" font-size="9" text-anchor="start" fill="#111" font-weight="bold" textLength="85.50" lengthAdjust="spacingAndGlyphs" >MS2 oleuropein (10)</text>
<text x="52.30" y="248.40" font-size="9" text-anchor="start" fill="#111" font-weight="bold" textLength="90.20" lengthAdjust="spacingAndGlyphs" >MS1 monotropein (7)</text>
<text x="52.80" y="366.30" font-size="9" text-anchor="start" fill="#111" font-weight="bold" textLength="90.00" lengthAdjust="spacingAndGlyphs" >MS2 monotropein (7)</text>
<text x="392.30" y="16.10" font-size="9" text-anchor="start" fill="#111" font-weight="bold" textLength="78.30" lengthAdjust="spacingAndGlyphs" >MS1 nuzhenide (9)</text>
<text x="392.50" y="132.90" font-size="9" text-anchor="start" fill="#111" font-weight="bold" textLength="79.00" lengthAdjust="spacingAndGlyphs" >MS2 nuzhenide (9)</text>
<text x="394.70" y="248.40" font-size="9" text-anchor="start" fill="#111" font-weight="bold" textLength="55.30" lengthAdjust="spacingAndGlyphs" >MS1 GL3 (11)</text>
<text x="396.20" y="367.00" font-size="9" text-anchor="start" fill="#111" font-weight="bold" textLength="54.60" lengthAdjust="spacingAndGlyphs" >MS2 GL3 (11)</text>
<text x="77.85" y="80.60" font-size="7.1" text-anchor="middle" fill="#1a1a1a" textLength="29.70" lengthAdjust="spacingAndGlyphs" stroke="#1a1a1a" stroke-width="0.18">185.1067</text>
<text x="99.15" y="101.80" font-size="7.1" text-anchor="middle" fill="#1a1a1a" textLength="30.70" lengthAdjust="spacingAndGlyphs" stroke="#1a1a1a" stroke-width="0.18">225.0658</text>
<text x="173.95" y="56.60" font-size="7.1" text-anchor="middle" fill="#1a1a1a" textLength="30.10" lengthAdjust="spacingAndGlyphs" stroke="#1a1a1a" stroke-width="0.18">361.1125</text>
<text x="283.90" y="34.10" font-size="7.1" text-anchor="middle" fill="#1a1a1a" textLength="30.20" lengthAdjust="spacingAndGlyphs" stroke="#1a1a1a" stroke-width="0.18">563.1495</text>
<text x="104.00" y="222.30" font-size="7.1" text-anchor="middle" fill="#1a1a1a" textLength="30.00" lengthAdjust="spacingAndGlyphs" stroke="#1a1a1a" stroke-width="0.18">233.0318</text>
<text x="178.05" y="178.80" font-size="7.1" text-anchor="middle" fill="#1a1a1a" textLength="29.90" lengthAdjust="spacingAndGlyphs" stroke="#1a1a1a" stroke-width="0.18">369.0786</text>
<text x="195.40" y="138.00" font-size="7.1" text-anchor="middle" fill="#1a1a1a" textLength="30.80" lengthAdjust="spacingAndGlyphs" stroke="#1a1a1a" stroke-width="0.18">401.1036</text>
<text x="283.85" y="191.00" font-size="7.1" text-anchor="middle" fill="#1a1a1a" textLength="30.10" lengthAdjust="spacingAndGlyphs" stroke="#1a1a1a" stroke-width="0.18">563.1495</text>
<text x="91.55" y="316.70" font-size="7.1" text-anchor="middle" fill="#1a1a1a" textLength="29.90" lengthAdjust="spacingAndGlyphs" stroke="#1a1a1a" stroke-width="0.18">211.0511</text>
<text x="202.10" y="256.70" font-size="7.1" text-anchor="middle" fill="#1a1a1a" textLength="30.20" lengthAdjust="spacingAndGlyphs" stroke="#1a1a1a" stroke-width="0.18">413.0880</text>
<text x="180.15" y="338.70" font-size="7.1" text-anchor="middle" fill="#1a1a1a" textLength="30.30" lengthAdjust="spacingAndGlyphs" stroke="#1a1a1a" stroke-width="0.18">373.0973</text>
<text x="103.95" y="432.20" font-size="7.1" text-anchor="middle" fill="#1a1a1a" textLength="30.50" lengthAdjust="spacingAndGlyphs" stroke="#1a1a1a" stroke-width="0.18">233.0324</text>
<text x="85.85" y="450.50" font-size="7.1" text-anchor="middle" fill="#1a1a1a" textLength="32.10" lengthAdjust="spacingAndGlyphs" stroke="#1a1a1a" stroke-width="0.18">203.0495</text>
<text x="202.00" y="371.70" font-size="7.1" text-anchor="middle" fill="#1a1a1a" textLength="30.40" lengthAdjust="spacingAndGlyphs" stroke="#1a1a1a" stroke-width="0.18">413.0879</text>
<text x="538.30" y="31.10" font-size="7.1" text-anchor="middle" fill="#1a1a1a" textLength="31.20" lengthAdjust="spacingAndGlyphs" stroke="#1a1a1a" stroke-width="0.18">685.2350</text>
<text x="493.15" y="104.60" font-size="7.1" text-anchor="middle" fill="#1a1a1a" textLength="29.70" lengthAdjust="spacingAndGlyphs" stroke="#1a1a1a" stroke-width="0.18">523.1816</text>
<text x="410.90" y="165.00" font-size="7.1" text-anchor="middle" fill="#1a1a1a" textLength="30.60" lengthAdjust="spacingAndGlyphs" stroke="#1a1a1a" stroke-width="0.18">223.0610</text>
<text x="431.90" y="191.30" font-size="7.1" text-anchor="middle" fill="#1a1a1a" textLength="30.20" lengthAdjust="spacingAndGlyphs" stroke="#1a1a1a" stroke-width="0.18">299.1133</text>
<text x="473.65" y="145.80" font-size="7.1" text-anchor="middle" fill="#1a1a1a" textLength="30.30" lengthAdjust="spacingAndGlyphs" stroke="#1a1a1a" stroke-width="0.18">453.1396</text>
<text x="457.65" y="220.70" font-size="7.1" text-anchor="middle" fill="#1a1a1a" textLength="30.70" lengthAdjust="spacingAndGlyphs" stroke="#1a1a1a" stroke-width="0.18">421.1502</text>
<text x="493.35" y="224.20" font-size="7.1" text-anchor="middle" fill="#1a1a1a" textLength="30.90" lengthAdjust="spacingAndGlyphs" stroke="#1a1a1a" stroke-width="0.18">523.1809</text>
<text x="407.30" y="322.70" font-size="7.1" text-anchor="middle" fill="#1a1a1a" textLength="30.60" lengthAdjust="spacingAndGlyphs" stroke="#1a1a1a" stroke-width="0.18">209.0670</text>
<text x="498.20" y="334.70" font-size="7.1" text-anchor="middle" fill="#1a1a1a" textLength="30.60" lengthAdjust="spacingAndGlyphs" stroke="#1a1a1a" stroke-width="0.18">539.1768</text>
<text x="538.00" y="341.00" font-size="7.1" text-anchor="middle" fill="#1a1a1a" textLength="30.40" lengthAdjust="spacingAndGlyphs" stroke="#1a1a1a" stroke-width="0.18">685.2351</text>
<text x="644.55" y="260.40" font-size="7.1" text-anchor="middle" fill="#1a1a1a" textLength="34.90" lengthAdjust="spacingAndGlyphs" stroke="#1a1a1a" stroke-width="0.18">1071.3566</text>
<text x="411.00" y="389.00" font-size="7.1" text-anchor="middle" fill="#1a1a1a" textLength="30.00" lengthAdjust="spacingAndGlyphs" stroke="#1a1a1a" stroke-width="0.18">223.0613</text>
<text x="431.95" y="412.30" font-size="7.1" text-anchor="middle" fill="#1a1a1a" textLength="30.30" lengthAdjust="spacingAndGlyphs" stroke="#1a1a1a" stroke-width="0.18">299.1136</text>
<text x="474.05" y="402.70" font-size="7.1" text-anchor="middle" fill="#1a1a1a" textLength="30.70" lengthAdjust="spacingAndGlyphs" stroke="#1a1a1a" stroke-width="0.18">453.1404</text>
<text x="493.40" y="429.30" font-size="7.1" text-anchor="middle" fill="#1a1a1a" textLength="30.40" lengthAdjust="spacingAndGlyphs" stroke="#1a1a1a" stroke-width="0.18">523.1821</text>
<text x="538.35" y="451.40" font-size="7.1" text-anchor="middle" fill="#1a1a1a" textLength="30.30" lengthAdjust="spacingAndGlyphs" stroke="#1a1a1a" stroke-width="0.18">685.2349</text>
<text x="580.60" y="456.90" font-size="7.1" text-anchor="middle" fill="#1a1a1a" textLength="30.80" lengthAdjust="spacingAndGlyphs" stroke="#1a1a1a" stroke-width="0.18">839.2616</text>
<line x1="173.50" y1="14.30" x2="173.50" y2="24.10" stroke="#ff1a1a" stroke-width="1.2" />
<line x1="284.40" y1="14.30" x2="284.40" y2="24.10" stroke="#ff1a1a" stroke-width="1.2" />
<line x1="173.50" y1="19.20" x2="214.30" y2="19.20" stroke="#ff1a1a" stroke-width="1.2" />
<line x1="241.00" y1="19.20" x2="284.40" y2="19.20" stroke="#ff1a1a" stroke-width="1.2" />
<text x="228.00" y="21.00" font-size="6.4" text-anchor="middle" fill="#ff1a1a" font-weight="bold" textLength="9.90" lengthAdjust="spacingAndGlyphs" stroke="#ff1a1a" stroke-width="0.2">202</text>
<line x1="195.10" y1="140.40" x2="195.10" y2="149.60" stroke="#ff1a1a" stroke-width="1.2" />
<line x1="282.20" y1="140.40" x2="282.20" y2="149.60" stroke="#ff1a1a" stroke-width="1.2" />
<line x1="195.10" y1="145.00" x2="220.90" y2="145.00" stroke="#ff1a1a" stroke-width="1.2" />
<line x1="261.30" y1="145.00" x2="282.20" y2="145.00" stroke="#ff1a1a" stroke-width="1.2" />
<text x="241.30" y="144.20" font-size="5.9" text-anchor="middle" fill="#ff1a1a" font-weight="bold" textLength="12.40" lengthAdjust="spacingAndGlyphs" stroke="#ff1a1a" stroke-width="0.2">-162</text>
<text x="241.80" y="152.20" font-size="5.9" text-anchor="middle" font-weight="bold" fill="#ff1a1a" stroke="#ff1a1a" stroke-width="0.15" textLength="23.90" lengthAdjust="spacingAndGlyphs"><tspan>-C</tspan><tspan font-size="4.4" dy="1.3">6</tspan><tspan dy="-1.3">H</tspan><tspan font-size="4.4" dy="1.3">10</tspan><tspan dy="-1.3">O</tspan><tspan font-size="4.4" dy="1.3">5</tspan></text>
<line x1="178.20" y1="162.10" x2="178.20" y2="171.30" stroke="#ff1a1a" stroke-width="1.2" />
<line x1="282.20" y1="162.10" x2="282.20" y2="171.30" stroke="#ff1a1a" stroke-width="1.2" />
<line x1="178.20" y1="166.70" x2="208.80" y2="166.70" stroke="#ff1a1a" stroke-width="1.2" />
<line x1="249.30" y1="166.70" x2="282.20" y2="166.70" stroke="#ff1a1a" stroke-width="1.2" />
<text x="229.40" y="166.20" font-size="5.9" text-anchor="middle" fill="#ff1a1a" font-weight="bold" textLength="12.40" lengthAdjust="spacingAndGlyphs" stroke="#ff1a1a" stroke-width="0.2">-194</text>
<text x="229.75" y="173.80" font-size="5.9" text-anchor="middle" font-weight="bold" fill="#ff1a1a" stroke="#ff1a1a" stroke-width="0.15" textLength="24.30" lengthAdjust="spacingAndGlyphs"><tspan>-C</tspan><tspan font-size="4.4" dy="1.3">7</tspan><tspan dy="-1.3">H</tspan><tspan font-size="4.4" dy="1.3">14</tspan><tspan dy="-1.3">O</tspan><tspan font-size="4.4" dy="1.3">5</tspan></text>
<line x1="89.40" y1="263.20" x2="89.40" y2="272.40" stroke="#ff1a1a" stroke-width="1.2" />
<line x1="200.50" y1="263.20" x2="200.50" y2="272.40" stroke="#ff1a1a" stroke-width="1.2" />
<line x1="89.40" y1="267.80" x2="130.50" y2="267.80" stroke="#ff1a1a" stroke-width="1.2" />
<line x1="157.80" y1="267.80" x2="200.50" y2="267.80" stroke="#ff1a1a" stroke-width="1.2" />
<text x="144.00" y="269.60" font-size="6.4" text-anchor="middle" fill="#ff1a1a" font-weight="bold" textLength="9.70" lengthAdjust="spacingAndGlyphs" stroke="#ff1a1a" stroke-width="0.2">202</text>
<line x1="103.80" y1="377.80" x2="103.80" y2="386.60" stroke="#ff1a1a" stroke-width="1.2" />
<line x1="201.50" y1="377.80" x2="201.50" y2="386.60" stroke="#ff1a1a" stroke-width="1.2" />
<line x1="103.80" y1="382.20" x2="134.50" y2="382.20" stroke="#ff1a1a" stroke-width="1.2" />
<line x1="175.30" y1="382.20" x2="201.50" y2="382.20" stroke="#ff1a1a" stroke-width="1.2" />
<text x="155.10" y="381.80" font-size="5.9" text-anchor="middle" fill="#ff1a1a" font-weight="bold" textLength="11.90" lengthAdjust="spacingAndGlyphs" stroke="#ff1a1a" stroke-width="0.2">-180</text>
<text x="155.40" y="389.50" font-size="5.9" text-anchor="middle" font-weight="bold" fill="#ff1a1a" stroke="#ff1a1a" stroke-width="0.15" textLength="25.10" lengthAdjust="spacingAndGlyphs"><tspan>-C</tspan><tspan font-size="4.4" dy="1.3">6</tspan><tspan dy="-1.3">H</tspan><tspan font-size="4.4" dy="1.3">12</tspan><tspan dy="-1.3">O</tspan><tspan font-size="4.4" dy="1.3">6</tspan></text>
<line x1="473.50" y1="153.00" x2="473.50" y2="162.00" stroke="#ff1a1a" stroke-width="1.2" />
<line x1="538.30" y1="153.00" x2="538.30" y2="162.00" stroke="#ff1a1a" stroke-width="1.2" />
<line x1="473.50" y1="157.50" x2="484.50" y2="157.50" stroke="#ff1a1a" stroke-width="1.2" />
<line x1="527.90" y1="157.50" x2="538.30" y2="157.50" stroke="#ff1a1a" stroke-width="1.2" />
<text x="506.10" y="156.60" font-size="5.9" text-anchor="middle" fill="#ff1a1a" font-weight="bold" textLength="12.00" lengthAdjust="spacingAndGlyphs" stroke="#ff1a1a" stroke-width="0.2">-232</text>
<text x="505.90" y="164.40" font-size="5.9" text-anchor="middle" font-weight="bold" fill="#ff1a1a" stroke="#ff1a1a" stroke-width="0.15" textLength="26.00" lengthAdjust="spacingAndGlyphs"><tspan>-C</tspan><tspan font-size="4.4" dy="1.3">10</tspan><tspan dy="-1.3">H</tspan><tspan font-size="4.4" dy="1.3">16</tspan><tspan dy="-1.3">O</tspan><tspan font-size="4.4" dy="1.3">6</tspan></text>
<line x1="464.60" y1="177.20" x2="464.60" y2="186.80" stroke="#ff1a1a" stroke-width="1.2" />
<line x1="538.30" y1="177.20" x2="538.30" y2="186.80" stroke="#ff1a1a" stroke-width="1.2" />
<line x1="464.60" y1="182.00" x2="478.60" y2="182.00" stroke="#ff1a1a" stroke-width="1.2" />
<line x1="521.60" y1="182.00" x2="538.30" y2="182.00" stroke="#ff1a1a" stroke-width="1.2" />
<text x="500.30" y="181.10" font-size="5.9" text-anchor="middle" fill="#ff1a1a" font-weight="bold" textLength="12.20" lengthAdjust="spacingAndGlyphs" stroke="#ff1a1a" stroke-width="0.2">-264</text>
<text x="500.30" y="190.00" font-size="5.9" text-anchor="middle" font-weight="bold" fill="#ff1a1a" stroke="#ff1a1a" stroke-width="0.15" textLength="26.90" lengthAdjust="spacingAndGlyphs"><tspan>-C</tspan><tspan font-size="4.4" dy="1.3">10</tspan><tspan dy="-1.3">H</tspan><tspan font-size="4.4" dy="1.3">16</tspan><tspan dy="-1.3">O</tspan><tspan font-size="4.4" dy="1.3">8</tspan></text>
<line x1="431.60" y1="201.10" x2="431.60" y2="210.10" stroke="#ff1a1a" stroke-width="1.2" />
<line x1="538.40" y1="201.10" x2="538.40" y2="210.10" stroke="#ff1a1a" stroke-width="1.2" />
<line x1="431.60" y1="205.60" x2="473.50" y2="205.60" stroke="#ff1a1a" stroke-width="1.2" />
<line x1="512.40" y1="205.60" x2="538.40" y2="205.60" stroke="#ff1a1a" stroke-width="1.2" />
<text x="493.30" y="205.00" font-size="5.9" text-anchor="middle" fill="#ff1a1a" font-weight="bold" textLength="12.90" lengthAdjust="spacingAndGlyphs" stroke="#ff1a1a" stroke-width="0.2">-386</text>
<text x="493.60" y="212.40" font-size="5.9" text-anchor="middle" font-weight="bold" fill="#ff1a1a" stroke="#ff1a1a" stroke-width="0.15" textLength="29.60" lengthAdjust="spacingAndGlyphs"><tspan>-C</tspan><tspan font-size="4.4" dy="1.3">17</tspan><tspan dy="-1.3">H</tspan><tspan font-size="4.4" dy="1.3">22</tspan><tspan dy="-1.3">O</tspan><tspan font-size="4.4" dy="1.3">10</tspan></text>
<line x1="537.40" y1="408.20" x2="537.40" y2="417.20" stroke="#ff1a1a" stroke-width="1.2" />
<line x1="644.40" y1="408.20" x2="644.40" y2="417.20" stroke="#ff1a1a" stroke-width="1.2" />
<line x1="537.40" y1="412.70" x2="567.70" y2="412.70" stroke="#ff1a1a" stroke-width="1.2" />
<line x1="613.10" y1="412.70" x2="644.40" y2="412.70" stroke="#ff1a1a" stroke-width="1.2" />
<text x="590.50" y="411.50" font-size="5.9" text-anchor="middle" fill="#ff1a1a" font-weight="bold" textLength="11.90" lengthAdjust="spacingAndGlyphs" stroke="#ff1a1a" stroke-width="0.2">-386</text>
<text x="590.30" y="419.50" font-size="5.9" text-anchor="middle" font-weight="bold" fill="#ff1a1a" stroke="#ff1a1a" stroke-width="0.15" textLength="29.00" lengthAdjust="spacingAndGlyphs"><tspan>-C</tspan><tspan font-size="4.4" dy="1.3">17</tspan><tspan dy="-1.3">H</tspan><tspan font-size="4.4" dy="1.3">22</tspan><tspan dy="-1.3">O</tspan><tspan font-size="4.4" dy="1.3">10</tspan></text>
<line x1="579.00" y1="432.30" x2="579.00" y2="441.10" stroke="#ff1a1a" stroke-width="1.2" />
<line x1="643.90" y1="432.30" x2="643.90" y2="441.10" stroke="#ff1a1a" stroke-width="1.2" />
<line x1="579.00" y1="436.70" x2="589.60" y2="436.70" stroke="#ff1a1a" stroke-width="1.2" />
<line x1="633.30" y1="436.70" x2="643.90" y2="436.70" stroke="#ff1a1a" stroke-width="1.2" />
<text x="611.50" y="437.00" font-size="5.9" text-anchor="middle" fill="#ff1a1a" font-weight="bold" textLength="11.80" lengthAdjust="spacingAndGlyphs" stroke="#ff1a1a" stroke-width="0.2">-232</text>
<text x="611.50" y="444.20" font-size="5.9" text-anchor="middle" font-weight="bold" fill="#ff1a1a" stroke="#ff1a1a" stroke-width="0.15" textLength="27.00" lengthAdjust="spacingAndGlyphs"><tspan>-C</tspan><tspan font-size="4.4" dy="1.3">10</tspan><tspan dy="-1.3">H</tspan><tspan font-size="4.4" dy="1.3">16</tspan><tspan dy="-1.3">O</tspan><tspan font-size="4.4" dy="1.3">6</tspan></text>
<g stroke-linecap="round">
<line x1="97.60" y1="50.60" x2="105.10" y2="48.90" stroke="#3a3a3a" stroke-width="0.75" />
<line x1="105.10" y1="48.90" x2="107.00" y2="40.20" stroke="#3a3a3a" stroke-width="0.7" />
<line x1="106.17" y1="49.13" x2="108.07" y2="40.43" stroke="#3a3a3a" stroke-width="0.7" />
<line x1="105.10" y1="48.90" x2="110.20" y2="54.60" stroke="#3a3a3a" stroke-width="0.75" />
<line x1="110.20" y1="54.60" x2="116.80" y2="55.80" stroke="#3a3a3a" stroke-width="0.75" />
<polygon points="116.80,55.80 116.38,50.42 114.82,50.78" fill="#111" stroke="#111" stroke-width="0.3"/>
<line x1="116.80" y1="55.80" x2="123.10" y2="52.30" stroke="#3a3a3a" stroke-width="0.75" />
<line x1="123.10" y1="52.30" x2="130.30" y2="56.40" stroke="#3a3a3a" stroke-width="0.7" />
<line x1="125.04" y1="51.91" x2="129.65" y2="54.53" stroke="#3a3a3a" stroke-width="0.7" />
<line x1="130.30" y1="56.40" x2="130.50" y2="64.20" stroke="#3a3a3a" stroke-width="0.75" />
<line x1="130.50" y1="64.20" x2="123.80" y2="68.30" stroke="#3a3a3a" stroke-width="0.75" />
<line x1="123.80" y1="68.30" x2="116.80" y2="64.30" stroke="#3a3a3a" stroke-width="0.75" />
<line x1="116.80" y1="64.30" x2="116.80" y2="55.80" stroke="#3a3a3a" stroke-width="0.75" />
<line x1="116.80" y1="64.30" x2="110.00" y2="68.30" stroke="#3a3a3a" stroke-width="0.7" />
<line x1="114.92" y1="63.90" x2="110.56" y2="66.46" stroke="#3a3a3a" stroke-width="0.7" />
<line x1="110.00" y1="68.30" x2="103.20" y2="64.50" stroke="#3a3a3a" stroke-width="0.75" />
<line x1="123.10" y1="52.30" x2="123.10" y2="44.00" stroke="#3a3a3a" stroke-width="0.75" />
<line x1="123.10" y1="44.00" x2="130.20" y2="40.00" stroke="#3a3a3a" stroke-width="0.7" />
<line x1="122.56" y1="43.04" x2="129.66" y2="39.04" stroke="#3a3a3a" stroke-width="0.7" />
<line x1="123.10" y1="44.00" x2="116.00" y2="40.00" stroke="#3a3a3a" stroke-width="0.75" />
<line x1="116.00" y1="40.00" x2="116.20" y2="32.40" stroke="#3a3a3a" stroke-width="0.75" />
<polygon points="123.80,68.30 122.80,76.58 124.40,76.62" fill="#111" stroke="#111" stroke-width="0.3"/>
<text x="97.60" y="52.35" font-size="4.9" text-anchor="middle" fill="#111" stroke="#fff" stroke-width="0.9" paint-order="stroke">O</text>
<text x="107.00" y="41.95" font-size="4.9" text-anchor="middle" fill="#111" stroke="#fff" stroke-width="0.9" paint-order="stroke">O</text>
<text x="115.60" y="50.35" font-size="4.9" text-anchor="middle" fill="#111" stroke="#fff" stroke-width="0.9" paint-order="stroke">H</text>
<text x="130.50" y="65.95" font-size="4.9" text-anchor="middle" fill="#111" stroke="#fff" stroke-width="0.9" paint-order="stroke">O</text>
<text x="130.20" y="41.75" font-size="4.9" text-anchor="middle" fill="#111" stroke="#fff" stroke-width="0.9" paint-order="stroke">O</text>
<text x="116.00" y="41.75" font-size="4.9" text-anchor="middle" fill="#111" stroke="#fff" stroke-width="0.9" paint-order="stroke">O</text>
<text x="123.60" y="78.35" font-size="4.9" text-anchor="middle" fill="#111" stroke="#fff" stroke-width="0.9" paint-order="stroke">O</text>
<polygon points="123.60,76.60 128.68,82.44 129.72,81.36" fill="#111" stroke="#111" stroke-width="0.3"/>
<line x1="129.20" y1="81.90" x2="136.30" y2="79.80" stroke="#3a3a3a" stroke-width="0.75" />
<line x1="136.30" y1="79.80" x2="142.00" y2="84.80" stroke="#3a3a3a" stroke-width="0.75" />
<line x1="142.00" y1="84.80" x2="141.50" y2="93.40" stroke="#3a3a3a" stroke-width="0.75" />
<line x1="141.50" y1="93.40" x2="133.70" y2="95.50" stroke="#3a3a3a" stroke-width="0.75" />
<line x1="133.70" y1="95.50" x2="127.10" y2="90.30" stroke="#3a3a3a" stroke-width="0.75" />
<line x1="127.10" y1="90.30" x2="129.20" y2="81.90" stroke="#3a3a3a" stroke-width="0.75" />
<line x1="136.30" y1="79.80" x2="141.20" y2="72.60" stroke="#3a3a3a" stroke-width="0.75" />
<polygon points="142.00,84.80 149.36,83.16 148.84,81.64" fill="#111" stroke="#111" stroke-width="0.3"/>
<line x1="141.50" y1="93.40" x2="146.10" y2="97.60" stroke="#3a3a3a" stroke-width="0.75" />
<polygon points="133.70,95.50 131.12,103.63 132.68,103.97" fill="#111" stroke="#111" stroke-width="0.3"/>
<line x1="131.90" y1="103.80" x2="125.40" y2="105.90" stroke="#3a3a3a" stroke-width="0.75" />
<text x="127.10" y="92.05" font-size="4.9" text-anchor="middle" fill="#111" stroke="#fff" stroke-width="0.9" paint-order="stroke">O</text>
<text x="141.20" y="74.35" font-size="4.9" text-anchor="middle" fill="#111" stroke="#fff" stroke-width="0.9" paint-order="stroke">OH</text>
<text x="152.60" y="84.75" font-size="4.9" text-anchor="middle" fill="#111" stroke="#fff" stroke-width="0.9" paint-order="stroke">OH</text>
<text x="148.60" y="100.35" font-size="4.9" text-anchor="middle" fill="#111" stroke="#fff" stroke-width="0.9" paint-order="stroke">OH</text>
<text x="122.40" y="107.65" font-size="4.9" text-anchor="middle" fill="#111" stroke="#fff" stroke-width="0.9" paint-order="stroke">HO</text>
<line x1="66.47" y1="30.67" x2="74.30" y2="28.58" stroke="#3a3a3a" stroke-width="0.75" />
<line x1="74.87" y1="30.89" x2="77.71" y2="33.73" stroke="#3a3a3a" stroke-width="0.55" />
<line x1="74.30" y1="28.58" x2="80.02" y2="34.30" stroke="#3a3a3a" stroke-width="0.75" />
<line x1="80.02" y1="34.30" x2="77.93" y2="42.13" stroke="#3a3a3a" stroke-width="0.75" />
<line x1="75.63" y1="41.47" x2="71.76" y2="42.51" stroke="#3a3a3a" stroke-width="0.55" />
<line x1="77.93" y1="42.13" x2="70.10" y2="44.22" stroke="#3a3a3a" stroke-width="0.75" />
<line x1="70.10" y1="44.22" x2="64.38" y2="38.50" stroke="#3a3a3a" stroke-width="0.75" />
<line x1="66.09" y1="36.84" x2="67.13" y2="32.97" stroke="#3a3a3a" stroke-width="0.55" />
<line x1="64.38" y1="38.50" x2="66.47" y2="30.67" stroke="#3a3a3a" stroke-width="0.75" />
<line x1="66.47" y1="30.67" x2="62.50" y2="27.20" stroke="#3a3a3a" stroke-width="0.75" />
<text x="58.60" y="27.05" font-size="4.9" text-anchor="middle" fill="#111" stroke="#fff" stroke-width="0.9" paint-order="stroke">HO</text>
<line x1="64.38" y1="38.50" x2="59.80" y2="40.60" stroke="#3a3a3a" stroke-width="0.75" />
<text x="55.60" y="42.55" font-size="4.9" text-anchor="middle" fill="#111" stroke="#fff" stroke-width="0.9" paint-order="stroke">HO</text>
<line x1="77.93" y1="42.13" x2="84.40" y2="47.30" stroke="#3a3a3a" stroke-width="0.75" />
<line x1="84.40" y1="47.30" x2="91.80" y2="45.00" stroke="#3a3a3a" stroke-width="0.75" />
<line x1="91.80" y1="45.00" x2="97.60" y2="50.60" stroke="#3a3a3a" stroke-width="0.75" />
<line x1="471.00" y1="36.60" x2="478.50" y2="34.90" stroke="#3a3a3a" stroke-width="0.75" />
<line x1="478.50" y1="34.90" x2="480.40" y2="26.20" stroke="#3a3a3a" stroke-width="0.7" />
<line x1="479.57" y1="35.13" x2="481.47" y2="26.43" stroke="#3a3a3a" stroke-width="0.7" />
<line x1="478.50" y1="34.90" x2="483.60" y2="40.60" stroke="#3a3a3a" stroke-width="0.75" />
<line x1="483.60" y1="40.60" x2="490.20" y2="41.80" stroke="#3a3a3a" stroke-width="0.75" />
<polygon points="490.20,41.80 489.78,36.42 488.22,36.78" fill="#111" stroke="#111" stroke-width="0.3"/>
<line x1="490.20" y1="41.80" x2="496.50" y2="38.30" stroke="#3a3a3a" stroke-width="0.75" />
<line x1="496.50" y1="38.30" x2="503.70" y2="42.40" stroke="#3a3a3a" stroke-width="0.7" />
<line x1="498.44" y1="37.91" x2="503.05" y2="40.53" stroke="#3a3a3a" stroke-width="0.7" />
<line x1="503.70" y1="42.40" x2="503.90" y2="50.20" stroke="#3a3a3a" stroke-width="0.75" />
<line x1="503.90" y1="50.20" x2="497.20" y2="54.30" stroke="#3a3a3a" stroke-width="0.75" />
<line x1="497.20" y1="54.30" x2="490.20" y2="50.30" stroke="#3a3a3a" stroke-width="0.75" />
<line x1="490.20" y1="50.30" x2="490.20" y2="41.80" stroke="#3a3a3a" stroke-width="0.75" />
<line x1="490.20" y1="50.30" x2="483.40" y2="54.30" stroke="#3a3a3a" stroke-width="0.7" />
<line x1="488.32" y1="49.90" x2="483.96" y2="52.46" stroke="#3a3a3a" stroke-width="0.7" />
<line x1="483.40" y1="54.30" x2="476.60" y2="50.50" stroke="#3a3a3a" stroke-width="0.75" />
<line x1="496.50" y1="38.30" x2="496.50" y2="30.00" stroke="#3a3a3a" stroke-width="0.75" />
<line x1="496.50" y1="30.00" x2="503.60" y2="26.00" stroke="#3a3a3a" stroke-width="0.7" />
<line x1="495.96" y1="29.04" x2="503.06" y2="25.04" stroke="#3a3a3a" stroke-width="0.7" />
<line x1="496.50" y1="30.00" x2="489.40" y2="26.00" stroke="#3a3a3a" stroke-width="0.75" />
<line x1="489.40" y1="26.00" x2="489.60" y2="18.40" stroke="#3a3a3a" stroke-width="0.75" />
<polygon points="497.20,54.30 496.20,62.58 497.80,62.62" fill="#111" stroke="#111" stroke-width="0.3"/>
<text x="471.00" y="38.35" font-size="4.9" text-anchor="middle" fill="#111" stroke="#fff" stroke-width="0.9" paint-order="stroke">O</text>
<text x="480.40" y="27.95" font-size="4.9" text-anchor="middle" fill="#111" stroke="#fff" stroke-width="0.9" paint-order="stroke">O</text>
<text x="489.00" y="36.35" font-size="4.9" text-anchor="middle" fill="#111" stroke="#fff" stroke-width="0.9" paint-order="stroke">H</text>
<text x="503.90" y="51.95" font-size="4.9" text-anchor="middle" fill="#111" stroke="#fff" stroke-width="0.9" paint-order="stroke">O</text>
<text x="503.60" y="27.75" font-size="4.9" text-anchor="middle" fill="#111" stroke="#fff" stroke-width="0.9" paint-order="stroke">O</text>
<text x="489.40" y="27.75" font-size="4.9" text-anchor="middle" fill="#111" stroke="#fff" stroke-width="0.9" paint-order="stroke">O</text>
<text x="497.00" y="64.35" font-size="4.9" text-anchor="middle" fill="#111" stroke="#fff" stroke-width="0.9" paint-order="stroke">O</text>
<polygon points="497.00,62.60 502.08,68.44 503.12,67.36" fill="#111" stroke="#111" stroke-width="0.3"/>
<line x1="502.60" y1="67.90" x2="509.70" y2="65.80" stroke="#3a3a3a" stroke-width="0.75" />
<line x1="509.70" y1="65.80" x2="515.40" y2="70.80" stroke="#3a3a3a" stroke-width="0.75" />
<line x1="515.40" y1="70.80" x2="514.90" y2="79.40" stroke="#3a3a3a" stroke-width="0.75" />
<line x1="514.90" y1="79.40" x2="507.10" y2="81.50" stroke="#3a3a3a" stroke-width="0.75" />
<line x1="507.10" y1="81.50" x2="500.50" y2="76.30" stroke="#3a3a3a" stroke-width="0.75" />
<line x1="500.50" y1="76.30" x2="502.60" y2="67.90" stroke="#3a3a3a" stroke-width="0.75" />
<line x1="509.70" y1="65.80" x2="514.60" y2="58.60" stroke="#3a3a3a" stroke-width="0.75" />
<polygon points="515.40,70.80 522.76,69.16 522.24,67.64" fill="#111" stroke="#111" stroke-width="0.3"/>
<line x1="514.90" y1="79.40" x2="519.50" y2="83.60" stroke="#3a3a3a" stroke-width="0.75" />
<polygon points="507.10,81.50 504.52,89.63 506.08,89.97" fill="#111" stroke="#111" stroke-width="0.3"/>
<line x1="505.30" y1="89.80" x2="498.80" y2="91.90" stroke="#3a3a3a" stroke-width="0.75" />
<text x="500.50" y="78.05" font-size="4.9" text-anchor="middle" fill="#111" stroke="#fff" stroke-width="0.9" paint-order="stroke">O</text>
<text x="514.60" y="60.35" font-size="4.9" text-anchor="middle" fill="#111" stroke="#fff" stroke-width="0.9" paint-order="stroke">OH</text>
<text x="526.00" y="70.75" font-size="4.9" text-anchor="middle" fill="#111" stroke="#fff" stroke-width="0.9" paint-order="stroke">OH</text>
<text x="522.00" y="86.35" font-size="4.9" text-anchor="middle" fill="#111" stroke="#fff" stroke-width="0.9" paint-order="stroke">OH</text>
<text x="495.80" y="93.65" font-size="4.9" text-anchor="middle" fill="#111" stroke="#fff" stroke-width="0.9" paint-order="stroke">HO</text>
<line x1="440.90" y1="36.50" x2="448.50" y2="32.50" stroke="#3a3a3a" stroke-width="0.75" />
<line x1="448.50" y1="32.50" x2="455.50" y2="36.50" stroke="#3a3a3a" stroke-width="0.75" />
<line x1="455.50" y1="36.50" x2="455.50" y2="44.80" stroke="#3a3a3a" stroke-width="0.75" />
<line x1="455.50" y1="44.80" x2="448.50" y2="48.60" stroke="#3a3a3a" stroke-width="0.75" />
<line x1="448.50" y1="48.60" x2="440.90" y2="44.80" stroke="#3a3a3a" stroke-width="0.75" />
<line x1="440.90" y1="44.80" x2="440.90" y2="36.50" stroke="#3a3a3a" stroke-width="0.75" />
<polygon points="455.50,36.50 462.88,33.40 462.12,32.00" fill="#111" stroke="#111" stroke-width="0.3"/>
<line x1="462.50" y1="32.70" x2="471.00" y2="36.60" stroke="#3a3a3a" stroke-width="0.75" />
<line x1="440.90" y1="44.80" x2="436.50" y2="47.30" stroke="#3a3a3a" stroke-width="0.75" />
<text x="432.60" y="50.75" font-size="4.9" text-anchor="middle" fill="#111" stroke="#fff" stroke-width="0.9" paint-order="stroke">HO</text>
<polygon points="448.50,48.60 448.10,54.55 449.70,54.45" fill="#111" stroke="#111" stroke-width="0.3"/>
<text x="449.90" y="58.65" font-size="4.9" text-anchor="middle" fill="#111" stroke="#fff" stroke-width="0.9" paint-order="stroke">OH</text>
<line x1="455.50" y1="44.80" x2="460.00" y2="47.30" stroke="#3a3a3a" stroke-width="0.75" />
<text x="463.90" y="50.75" font-size="4.9" text-anchor="middle" fill="#111" stroke="#fff" stroke-width="0.9" paint-order="stroke">OH</text>
<polygon points="434.60,32.90 440.50,37.19 441.30,35.81" fill="#111" stroke="#111" stroke-width="0.3"/>
<text x="448.50" y="34.25" font-size="4.9" text-anchor="middle" fill="#111" stroke="#fff" stroke-width="0.9" paint-order="stroke">O</text>
<text x="434.60" y="34.65" font-size="4.9" text-anchor="middle" fill="#111" stroke="#fff" stroke-width="0.9" paint-order="stroke">O</text>
<line x1="434.60" y1="32.90" x2="427.60" y2="36.50" stroke="#3a3a3a" stroke-width="0.75" />
<line x1="427.60" y1="36.50" x2="420.60" y2="32.30" stroke="#3a3a3a" stroke-width="0.75" />
<line x1="420.60" y1="32.30" x2="413.60" y2="36.50" stroke="#3a3a3a" stroke-width="0.75" />
<line x1="399.00" y1="36.50" x2="406.30" y2="32.30" stroke="#3a3a3a" stroke-width="0.75" />
<line x1="407.51" y1="34.42" x2="411.15" y2="36.50" stroke="#3a3a3a" stroke-width="0.55" />
<line x1="406.30" y1="32.30" x2="413.60" y2="36.50" stroke="#3a3a3a" stroke-width="0.75" />
<line x1="413.60" y1="36.50" x2="413.60" y2="44.80" stroke="#3a3a3a" stroke-width="0.75" />
<line x1="411.15" y1="44.80" x2="407.51" y2="46.88" stroke="#3a3a3a" stroke-width="0.55" />
<line x1="413.60" y1="44.80" x2="406.30" y2="49.00" stroke="#3a3a3a" stroke-width="0.75" />
<line x1="406.30" y1="49.00" x2="399.00" y2="44.80" stroke="#3a3a3a" stroke-width="0.75" />
<line x1="400.23" y1="42.72" x2="400.23" y2="38.58" stroke="#3a3a3a" stroke-width="0.55" />
<line x1="399.00" y1="44.80" x2="399.00" y2="36.50" stroke="#3a3a3a" stroke-width="0.75" />
<line x1="399.00" y1="44.80" x2="394.80" y2="47.30" stroke="#3a3a3a" stroke-width="0.75" />
<text x="390.80" y="50.15" font-size="4.9" text-anchor="middle" fill="#111" stroke="#fff" stroke-width="0.9" paint-order="stroke">HO</text>
<line x1="267.60" y1="261.10" x2="260.80" y2="258.30" stroke="#3a3a3a" stroke-width="0.75" />
<text x="258.00" y="258.95" font-size="4.9" text-anchor="middle" fill="#111" stroke="#fff" stroke-width="0.9" paint-order="stroke">HO</text>
<line x1="267.60" y1="261.10" x2="273.50" y2="257.60" stroke="#3a3a3a" stroke-width="0.7" />
<line x1="267.04" y1="260.15" x2="272.94" y2="256.65" stroke="#3a3a3a" stroke-width="0.7" />
<text x="274.40" y="258.75" font-size="4.9" text-anchor="middle" fill="#111" stroke="#fff" stroke-width="0.9" paint-order="stroke">O</text>
<line x1="267.60" y1="261.10" x2="267.60" y2="269.10" stroke="#3a3a3a" stroke-width="0.75" />
<line x1="267.60" y1="269.10" x2="274.20" y2="273.30" stroke="#3a3a3a" stroke-width="0.7" />
<line x1="269.49" y1="268.76" x2="273.71" y2="271.45" stroke="#3a3a3a" stroke-width="0.7" />
<line x1="274.20" y1="273.30" x2="274.60" y2="281.30" stroke="#3a3a3a" stroke-width="0.75" />
<line x1="274.60" y1="281.30" x2="267.60" y2="285.50" stroke="#3a3a3a" stroke-width="0.75" />
<line x1="267.60" y1="285.50" x2="261.00" y2="281.80" stroke="#3a3a3a" stroke-width="0.75" />
<line x1="261.00" y1="281.80" x2="261.00" y2="273.30" stroke="#3a3a3a" stroke-width="0.75" />
<line x1="261.00" y1="273.30" x2="267.60" y2="269.10" stroke="#3a3a3a" stroke-width="0.75" />
<line x1="261.00" y1="273.30" x2="254.00" y2="271.00" stroke="#3a3a3a" stroke-width="0.75" />
<line x1="254.00" y1="271.00" x2="248.30" y2="277.60" stroke="#3a3a3a" stroke-width="0.7" />
<line x1="251.99" y1="271.34" x2="248.34" y2="275.56" stroke="#3a3a3a" stroke-width="0.7" />
<line x1="248.30" y1="277.60" x2="252.60" y2="285.10" stroke="#3a3a3a" stroke-width="0.75" />
<line x1="252.60" y1="285.10" x2="261.00" y2="281.80" stroke="#3a3a3a" stroke-width="0.75" />
<line x1="252.60" y1="285.10" x2="246.90" y2="287.40" stroke="#3a3a3a" stroke-width="0.75" />
<line x1="246.90" y1="287.40" x2="241.80" y2="285.00" stroke="#3a3a3a" stroke-width="0.75" />
<text x="238.40" y="285.95" font-size="4.9" text-anchor="middle" fill="#111" stroke="#fff" stroke-width="0.9" paint-order="stroke">HO</text>
<line x1="252.60" y1="285.10" x2="255.50" y2="289.20" stroke="#3a3a3a" stroke-width="0.75" />
<text x="257.40" y="293.05" font-size="4.9" text-anchor="middle" fill="#111" stroke="#fff" stroke-width="0.9" paint-order="stroke">OH</text>
<polygon points="267.60,285.50 266.80,293.10 268.40,293.10" fill="#111" stroke="#111" stroke-width="0.3"/>
<text x="274.60" y="283.05" font-size="4.9" text-anchor="middle" fill="#111" stroke="#fff" stroke-width="0.9" paint-order="stroke">O</text>
<text x="267.60" y="294.85" font-size="4.9" text-anchor="middle" fill="#111" stroke="#fff" stroke-width="0.9" paint-order="stroke">O</text>
<polygon points="267.60,293.10 272.80,298.76 273.80,297.64" fill="#111" stroke="#111" stroke-width="0.3"/>
<line x1="273.30" y1="298.20" x2="280.40" y2="296.10" stroke="#3a3a3a" stroke-width="0.75" />
<line x1="280.40" y1="296.10" x2="286.10" y2="301.10" stroke="#3a3a3a" stroke-width="0.75" />
<line x1="286.10" y1="301.10" x2="285.60" y2="309.70" stroke="#3a3a3a" stroke-width="0.75" />
<line x1="285.60" y1="309.70" x2="277.80" y2="311.80" stroke="#3a3a3a" stroke-width="0.75" />
<line x1="277.80" y1="311.80" x2="271.20" y2="306.60" stroke="#3a3a3a" stroke-width="0.75" />
<line x1="271.20" y1="306.60" x2="273.30" y2="298.20" stroke="#3a3a3a" stroke-width="0.75" />
<line x1="280.40" y1="296.10" x2="285.30" y2="288.90" stroke="#3a3a3a" stroke-width="0.75" />
<polygon points="286.10,301.10 293.46,299.46 292.94,297.94" fill="#111" stroke="#111" stroke-width="0.3"/>
<line x1="285.60" y1="309.70" x2="290.20" y2="313.90" stroke="#3a3a3a" stroke-width="0.75" />
<polygon points="277.80,311.80 275.22,319.93 276.78,320.27" fill="#111" stroke="#111" stroke-width="0.3"/>
<line x1="276.00" y1="320.10" x2="269.50" y2="322.20" stroke="#3a3a3a" stroke-width="0.75" />
<text x="271.20" y="308.35" font-size="4.9" text-anchor="middle" fill="#111" stroke="#fff" stroke-width="0.9" paint-order="stroke">O</text>
<text x="285.30" y="290.65" font-size="4.9" text-anchor="middle" fill="#111" stroke="#fff" stroke-width="0.9" paint-order="stroke">OH</text>
<text x="296.70" y="301.05" font-size="4.9" text-anchor="middle" fill="#111" stroke="#fff" stroke-width="0.9" paint-order="stroke">OH</text>
<text x="292.70" y="316.65" font-size="4.9" text-anchor="middle" fill="#111" stroke="#fff" stroke-width="0.9" paint-order="stroke">OH</text>
<text x="266.50" y="323.95" font-size="4.9" text-anchor="middle" fill="#111" stroke="#fff" stroke-width="0.9" paint-order="stroke">HO</text>
<line x1="538.60" y1="268.60" x2="546.40" y2="270.20" stroke="#3a3a3a" stroke-width="0.75" />
<line x1="546.40" y1="270.20" x2="548.30" y2="261.50" stroke="#3a3a3a" stroke-width="0.7" />
<line x1="547.47" y1="270.43" x2="549.37" y2="261.73" stroke="#3a3a3a" stroke-width="0.7" />
<line x1="546.40" y1="270.20" x2="551.50" y2="275.90" stroke="#3a3a3a" stroke-width="0.75" />
<line x1="551.50" y1="275.90" x2="558.10" y2="277.10" stroke="#3a3a3a" stroke-width="0.75" />
<polygon points="558.10,277.10 557.68,271.72 556.12,272.08" fill="#111" stroke="#111" stroke-width="0.3"/>
<line x1="558.10" y1="277.10" x2="564.40" y2="273.60" stroke="#3a3a3a" stroke-width="0.75" />
<line x1="564.40" y1="273.60" x2="571.60" y2="277.70" stroke="#3a3a3a" stroke-width="0.7" />
<line x1="566.34" y1="273.21" x2="570.95" y2="275.83" stroke="#3a3a3a" stroke-width="0.7" />
<line x1="571.60" y1="277.70" x2="571.80" y2="285.50" stroke="#3a3a3a" stroke-width="0.75" />
<line x1="571.80" y1="285.50" x2="565.10" y2="289.60" stroke="#3a3a3a" stroke-width="0.75" />
<line x1="565.10" y1="289.60" x2="558.10" y2="285.60" stroke="#3a3a3a" stroke-width="0.75" />
<line x1="558.10" y1="285.60" x2="558.10" y2="277.10" stroke="#3a3a3a" stroke-width="0.75" />
<line x1="558.10" y1="285.60" x2="551.30" y2="289.60" stroke="#3a3a3a" stroke-width="0.7" />
<line x1="556.22" y1="285.20" x2="551.86" y2="287.76" stroke="#3a3a3a" stroke-width="0.7" />
<line x1="551.30" y1="289.60" x2="544.50" y2="285.80" stroke="#3a3a3a" stroke-width="0.75" />
<line x1="564.40" y1="273.60" x2="564.40" y2="265.30" stroke="#3a3a3a" stroke-width="0.75" />
<line x1="564.40" y1="265.30" x2="571.50" y2="261.30" stroke="#3a3a3a" stroke-width="0.7" />
<line x1="563.86" y1="264.34" x2="570.96" y2="260.34" stroke="#3a3a3a" stroke-width="0.7" />
<line x1="564.40" y1="265.30" x2="557.30" y2="261.30" stroke="#3a3a3a" stroke-width="0.75" />
<line x1="557.30" y1="261.30" x2="557.50" y2="253.70" stroke="#3a3a3a" stroke-width="0.75" />
<polygon points="565.10,289.60 564.10,297.88 565.70,297.92" fill="#111" stroke="#111" stroke-width="0.3"/>
<text x="538.60" y="270.35" font-size="4.9" text-anchor="middle" fill="#111" stroke="#fff" stroke-width="0.9" paint-order="stroke">O</text>
<text x="548.30" y="263.25" font-size="4.9" text-anchor="middle" fill="#111" stroke="#fff" stroke-width="0.9" paint-order="stroke">O</text>
<text x="556.90" y="271.65" font-size="4.9" text-anchor="middle" fill="#111" stroke="#fff" stroke-width="0.9" paint-order="stroke">H</text>
<text x="571.80" y="287.25" font-size="4.9" text-anchor="middle" fill="#111" stroke="#fff" stroke-width="0.9" paint-order="stroke">O</text>
<text x="571.50" y="263.05" font-size="4.9" text-anchor="middle" fill="#111" stroke="#fff" stroke-width="0.9" paint-order="stroke">O</text>
<text x="557.30" y="263.05" font-size="4.9" text-anchor="middle" fill="#111" stroke="#fff" stroke-width="0.9" paint-order="stroke">O</text>
<text x="564.90" y="299.65" font-size="4.9" text-anchor="middle" fill="#111" stroke="#fff" stroke-width="0.9" paint-order="stroke">O</text>
<polygon points="564.90,297.90 569.98,303.74 571.02,302.66" fill="#111" stroke="#111" stroke-width="0.3"/>
<line x1="570.50" y1="303.20" x2="577.60" y2="301.10" stroke="#3a3a3a" stroke-width="0.75" />
<line x1="577.60" y1="301.10" x2="583.30" y2="306.10" stroke="#3a3a3a" stroke-width="0.75" />
<line x1="583.30" y1="306.10" x2="582.80" y2="314.70" stroke="#3a3a3a" stroke-width="0.75" />
<line x1="582.80" y1="314.70" x2="575.00" y2="316.80" stroke="#3a3a3a" stroke-width="0.75" />
<line x1="575.00" y1="316.80" x2="568.40" y2="311.60" stroke="#3a3a3a" stroke-width="0.75" />
<line x1="568.40" y1="311.60" x2="570.50" y2="303.20" stroke="#3a3a3a" stroke-width="0.75" />
<line x1="577.60" y1="301.10" x2="582.50" y2="293.90" stroke="#3a3a3a" stroke-width="0.75" />
<polygon points="583.30,306.10 590.66,304.46 590.14,302.94" fill="#111" stroke="#111" stroke-width="0.3"/>
<line x1="582.80" y1="314.70" x2="587.40" y2="318.90" stroke="#3a3a3a" stroke-width="0.75" />
<polygon points="575.00,316.80 572.42,324.93 573.98,325.27" fill="#111" stroke="#111" stroke-width="0.3"/>
<line x1="573.20" y1="325.10" x2="566.70" y2="327.20" stroke="#3a3a3a" stroke-width="0.75" />
<text x="568.40" y="313.35" font-size="4.9" text-anchor="middle" fill="#111" stroke="#fff" stroke-width="0.9" paint-order="stroke">O</text>
<text x="582.50" y="295.65" font-size="4.9" text-anchor="middle" fill="#111" stroke="#fff" stroke-width="0.9" paint-order="stroke">OH</text>
<text x="593.90" y="306.05" font-size="4.9" text-anchor="middle" fill="#111" stroke="#fff" stroke-width="0.9" paint-order="stroke">OH</text>
<text x="589.90" y="321.65" font-size="4.9" text-anchor="middle" fill="#111" stroke="#fff" stroke-width="0.9" paint-order="stroke">OH</text>
<text x="563.70" y="328.95" font-size="4.9" text-anchor="middle" fill="#111" stroke="#fff" stroke-width="0.9" paint-order="stroke">HO</text>
<polygon points="508.80,265.00 513.95,271.71 515.05,270.69" fill="#111" stroke="#111" stroke-width="0.3"/>
<line x1="514.50" y1="271.20" x2="522.00" y2="270.70" stroke="#3a3a3a" stroke-width="0.75" />
<line x1="522.00" y1="270.70" x2="528.30" y2="276.40" stroke="#3a3a3a" stroke-width="0.75" />
<line x1="528.30" y1="276.40" x2="525.40" y2="284.40" stroke="#3a3a3a" stroke-width="0.75" />
<line x1="525.40" y1="284.40" x2="516.20" y2="285.60" stroke="#3a3a3a" stroke-width="0.75" />
<line x1="516.20" y1="285.60" x2="512.20" y2="279.30" stroke="#3a3a3a" stroke-width="0.75" />
<line x1="512.20" y1="279.30" x2="514.50" y2="271.20" stroke="#3a3a3a" stroke-width="0.75" />
<polygon points="528.30,276.40 535.39,275.48 535.01,273.92" fill="#111" stroke="#111" stroke-width="0.3"/>
<line x1="535.20" y1="274.70" x2="538.60" y2="268.60" stroke="#3a3a3a" stroke-width="0.75" />
<line x1="525.40" y1="284.40" x2="529.50" y2="288.50" stroke="#3a3a3a" stroke-width="0.75" />
<text x="531.80" y="292.05" font-size="4.9" text-anchor="middle" fill="#111" stroke="#fff" stroke-width="0.9" paint-order="stroke">OH</text>
<polygon points="516.20,285.60 513.46,290.20 514.94,290.80" fill="#111" stroke="#111" stroke-width="0.3"/>
<text x="513.50" y="294.85" font-size="4.9" text-anchor="middle" fill="#111" stroke="#fff" stroke-width="0.9" paint-order="stroke">HO</text>
<line x1="512.20" y1="279.30" x2="505.50" y2="280.00" stroke="#3a3a3a" stroke-width="0.75" />
<text x="501.90" y="282.25" font-size="4.9" text-anchor="middle" fill="#111" stroke="#fff" stroke-width="0.9" paint-order="stroke">HO</text>
<text x="522.00" y="272.45" font-size="4.9" text-anchor="middle" fill="#111" stroke="#fff" stroke-width="0.9" paint-order="stroke">O</text>
<text x="508.80" y="266.75" font-size="4.9" text-anchor="middle" fill="#111" stroke="#fff" stroke-width="0.9" paint-order="stroke">O</text>
<line x1="508.80" y1="265.00" x2="501.30" y2="266.50" stroke="#3a3a3a" stroke-width="0.75" />
<line x1="501.30" y1="266.50" x2="496.60" y2="261.20" stroke="#3a3a3a" stroke-width="0.75" />
<line x1="496.60" y1="261.20" x2="487.60" y2="261.30" stroke="#3a3a3a" stroke-width="0.75" />
<line x1="474.10" y1="262.90" x2="475.31" y2="259.00" stroke="#3a3a3a" stroke-width="0.55" />
<line x1="472.30" y1="264.50" x2="474.80" y2="256.60" stroke="#3a3a3a" stroke-width="0.75" />
<line x1="474.80" y1="256.60" x2="482.20" y2="255.00" stroke="#3a3a3a" stroke-width="0.75" />
<line x1="482.70" y1="257.42" x2="485.32" y2="260.55" stroke="#3a3a3a" stroke-width="0.55" />
<line x1="482.20" y1="255.00" x2="487.60" y2="261.30" stroke="#3a3a3a" stroke-width="0.75" />
<line x1="487.60" y1="261.30" x2="485.40" y2="269.00" stroke="#3a3a3a" stroke-width="0.75" />
<line x1="483.18" y1="268.18" x2="479.30" y2="268.91" stroke="#3a3a3a" stroke-width="0.55" />
<line x1="485.40" y1="269.00" x2="477.60" y2="270.50" stroke="#3a3a3a" stroke-width="0.75" />
<line x1="477.60" y1="270.50" x2="472.30" y2="264.50" stroke="#3a3a3a" stroke-width="0.75" />
<line x1="472.30" y1="264.50" x2="464.30" y2="265.90" stroke="#3a3a3a" stroke-width="0.75" />
<text x="464.30" y="267.65" font-size="4.9" text-anchor="middle" fill="#111" stroke="#fff" stroke-width="0.9" paint-order="stroke">O</text>
<line x1="464.30" y1="265.90" x2="459.60" y2="273.30" stroke="#3a3a3a" stroke-width="0.75" />
<line x1="459.60" y1="273.30" x2="463.00" y2="278.60" stroke="#3a3a3a" stroke-width="0.7" />
<line x1="458.67" y1="273.89" x2="462.07" y2="279.19" stroke="#3a3a3a" stroke-width="0.7" />
<text x="463.00" y="280.55" font-size="4.9" text-anchor="middle" fill="#111" stroke="#fff" stroke-width="0.9" paint-order="stroke">O</text>
<line x1="459.60" y1="273.30" x2="450.90" y2="271.90" stroke="#3a3a3a" stroke-width="0.75" />
<line x1="450.90" y1="271.90" x2="446.50" y2="276.30" stroke="#3a3a3a" stroke-width="0.75" />
<line x1="446.50" y1="276.30" x2="439.50" y2="272.00" stroke="#3a3a3a" stroke-width="0.75" />
<line x1="439.50" y1="272.00" x2="432.10" y2="275.40" stroke="#3a3a3a" stroke-width="0.75" />
<line x1="432.10" y1="275.40" x2="432.10" y2="284.00" stroke="#3a3a3a" stroke-width="0.75" />
<line x1="432.10" y1="284.00" x2="439.00" y2="288.00" stroke="#3a3a3a" stroke-width="0.75" />
<line x1="439.00" y1="288.00" x2="446.40" y2="284.00" stroke="#3a3a3a" stroke-width="0.7" />
<line x1="440.95" y1="288.42" x2="445.69" y2="285.86" stroke="#3a3a3a" stroke-width="0.7" />
<line x1="446.40" y1="284.00" x2="446.50" y2="276.30" stroke="#3a3a3a" stroke-width="0.75" />
<polygon points="446.50,276.30 451.46,279.52 452.14,278.08" fill="#111" stroke="#111" stroke-width="0.3"/>
<text x="453.90" y="281.35" font-size="4.9" text-anchor="middle" fill="#111" stroke="#fff" stroke-width="0.9" paint-order="stroke">H</text>
<line x1="439.50" y1="272.00" x2="439.50" y2="265.70" stroke="#3a3a3a" stroke-width="0.7" />
<line x1="440.80" y1="270.87" x2="440.80" y2="266.83" stroke="#3a3a3a" stroke-width="0.7" />
<line x1="439.50" y1="265.70" x2="445.80" y2="262.20" stroke="#3a3a3a" stroke-width="0.75" />
<line x1="446.40" y1="284.00" x2="452.90" y2="288.10" stroke="#3a3a3a" stroke-width="0.75" />
<line x1="452.90" y1="288.10" x2="452.90" y2="296.60" stroke="#3a3a3a" stroke-width="0.7" />
<line x1="451.80" y1="288.10" x2="451.80" y2="296.60" stroke="#3a3a3a" stroke-width="0.7" />
<text x="452.90" y="298.65" font-size="4.9" text-anchor="middle" fill="#111" stroke="#fff" stroke-width="0.9" paint-order="stroke">O</text>
<line x1="452.90" y1="288.10" x2="459.60" y2="284.20" stroke="#3a3a3a" stroke-width="0.75" />
<text x="459.60" y="285.95" font-size="4.9" text-anchor="middle" fill="#111" stroke="#fff" stroke-width="0.9" paint-order="stroke">O</text>
<line x1="459.60" y1="284.20" x2="466.30" y2="288.70" stroke="#3a3a3a" stroke-width="0.75" />
<text x="432.10" y="285.75" font-size="4.9" text-anchor="middle" fill="#111" stroke="#fff" stroke-width="0.9" paint-order="stroke">O</text>
<polygon points="432.10,275.40 425.55,271.28 424.85,272.72" fill="#111" stroke="#111" stroke-width="0.3"/>
<text x="425.20" y="273.75" font-size="4.9" text-anchor="middle" fill="#111" stroke="#fff" stroke-width="0.9" paint-order="stroke">O</text>
<polygon points="425.20,272.00 417.53,272.97 417.87,274.43" fill="#111" stroke="#111" stroke-width="0.3"/>
<line x1="417.70" y1="273.70" x2="411.20" y2="268.50" stroke="#3a3a3a" stroke-width="0.75" />
<line x1="411.20" y1="268.50" x2="403.40" y2="270.30" stroke="#3a3a3a" stroke-width="0.75" />
<line x1="403.40" y1="270.30" x2="402.80" y2="278.90" stroke="#3a3a3a" stroke-width="0.75" />
<line x1="402.80" y1="278.90" x2="408.00" y2="284.00" stroke="#3a3a3a" stroke-width="0.75" />
<line x1="408.00" y1="284.00" x2="416.00" y2="281.70" stroke="#3a3a3a" stroke-width="0.75" />
<line x1="416.00" y1="281.70" x2="417.70" y2="273.70" stroke="#3a3a3a" stroke-width="0.75" />
<polygon points="403.40,270.30 399.05,265.12 397.95,266.28" fill="#111" stroke="#111" stroke-width="0.3"/>
<line x1="398.50" y1="265.70" x2="400.50" y2="259.50" stroke="#3a3a3a" stroke-width="0.75" />
<text x="401.30" y="259.45" font-size="4.9" text-anchor="middle" fill="#111" stroke="#fff" stroke-width="0.9" paint-order="stroke">OH</text>
<line x1="402.80" y1="278.90" x2="396.50" y2="280.80" stroke="#3a3a3a" stroke-width="0.75" />
<text x="392.50" y="283.05" font-size="4.9" text-anchor="middle" fill="#111" stroke="#fff" stroke-width="0.9" paint-order="stroke">HO</text>
<polygon points="408.00,284.00 404.77,289.17 406.23,289.83" fill="#111" stroke="#111" stroke-width="0.3"/>
<text x="404.50" y="293.85" font-size="4.9" text-anchor="middle" fill="#111" stroke="#fff" stroke-width="0.9" paint-order="stroke">HO</text>
<line x1="416.00" y1="281.70" x2="420.50" y2="285.70" stroke="#3a3a3a" stroke-width="0.75" />
<text x="422.90" y="289.35" font-size="4.9" text-anchor="middle" fill="#111" stroke="#fff" stroke-width="0.9" paint-order="stroke">OH</text>
<text x="411.20" y="270.25" font-size="4.9" text-anchor="middle" fill="#111" stroke="#fff" stroke-width="0.9" paint-order="stroke">O</text>
</g>
</svg>
</body></html>
